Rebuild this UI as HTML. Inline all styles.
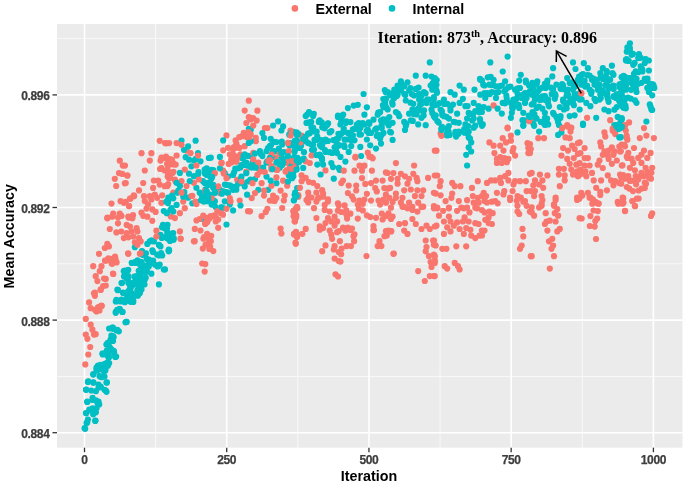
<!DOCTYPE html>
<html><head><meta charset="utf-8">
<style>
html,body{margin:0;padding:0;background:#fff;}
body{width:685px;height:484px;overflow:hidden;}
svg{display:block;filter:blur(0.3px);}
.gmin{stroke:#fafafa;stroke-width:0.9;}
.gmaj{stroke:#fff;stroke-width:1.6;}
.tk{stroke:#333;stroke-width:1.3;}
.yl{font:bold 12px "Liberation Sans",sans-serif;letter-spacing:-0.35px;fill:#3d3d3d;stroke:#3d3d3d;stroke-width:0.25px;text-anchor:end;}
.xl{font:bold 12px "Liberation Sans",sans-serif;letter-spacing:-0.35px;fill:#3d3d3d;stroke:#3d3d3d;stroke-width:0.25px;text-anchor:middle;}
.ttl{font:bold 14.3px "Liberation Sans",sans-serif;fill:#000;}
.r{fill:#F8766D;}
.t{fill:#00BFC4;}
.ann{font:bold 15.95px "Liberation Serif",serif;fill:#000;}
</style></head>
<body>
<svg width="685" height="484" viewBox="0 0 685 484">
<rect x="0" y="0" width="685" height="484" fill="#fff"/>
<rect x="57.0" y="24.0" width="625.5" height="423.7" fill="#EBEBEB"/>
<line x1="57.0" x2="682.5" y1="376.40" y2="376.40" class="gmin"/>
<line x1="57.0" x2="682.5" y1="263.80" y2="263.80" class="gmin"/>
<line x1="57.0" x2="682.5" y1="151.20" y2="151.20" class="gmin"/>
<line x1="57.0" x2="682.5" y1="38.60" y2="38.60" class="gmin"/>
<line y1="24.0" y2="447.7" x1="155.61" x2="155.61" class="gmin"/>
<line y1="24.0" y2="447.7" x1="297.84" x2="297.84" class="gmin"/>
<line y1="24.0" y2="447.7" x1="440.06" x2="440.06" class="gmin"/>
<line y1="24.0" y2="447.7" x1="582.29" x2="582.29" class="gmin"/>
<line x1="57.0" x2="682.5" y1="432.70" y2="432.70" class="gmaj"/>
<line x1="57.0" x2="682.5" y1="320.10" y2="320.10" class="gmaj"/>
<line x1="57.0" x2="682.5" y1="207.50" y2="207.50" class="gmaj"/>
<line x1="57.0" x2="682.5" y1="94.90" y2="94.90" class="gmaj"/>
<line y1="24.0" y2="447.7" x1="84.50" x2="84.50" class="gmaj"/>
<line y1="24.0" y2="447.7" x1="226.72" x2="226.72" class="gmaj"/>
<line y1="24.0" y2="447.7" x1="368.95" x2="368.95" class="gmaj"/>
<line y1="24.0" y2="447.7" x1="511.17" x2="511.17" class="gmaj"/>
<line y1="24.0" y2="447.7" x1="653.40" x2="653.40" class="gmaj"/>
<circle class="t" cx="137.4" cy="290.2" r="3.1"/>
<circle class="r" cx="238.2" cy="156.9" r="3.1"/>
<circle class="r" cx="105.8" cy="278.9" r="3.1"/>
<circle class="t" cx="556.4" cy="116.9" r="3.1"/>
<circle class="r" cx="133.0" cy="215.2" r="3.1"/>
<circle class="t" cx="122.4" cy="312.0" r="3.1"/>
<circle class="r" cx="275.6" cy="157.8" r="3.1"/>
<circle class="t" cx="338.0" cy="138.7" r="3.1"/>
<circle class="t" cx="488.6" cy="108.7" r="3.1"/>
<circle class="t" cx="622.0" cy="96.2" r="3.1"/>
<circle class="r" cx="128.3" cy="216.7" r="3.1"/>
<circle class="t" cx="553.1" cy="68.2" r="3.1"/>
<circle class="t" cx="531.7" cy="104.5" r="3.1"/>
<circle class="r" cx="205.3" cy="264.1" r="3.1"/>
<circle class="t" cx="391.7" cy="93.6" r="3.1"/>
<circle class="t" cx="606.7" cy="71.1" r="3.1"/>
<circle class="t" cx="418.2" cy="108.7" r="3.1"/>
<circle class="r" cx="113.0" cy="273.7" r="3.1"/>
<circle class="r" cx="183.2" cy="201.6" r="3.1"/>
<circle class="r" cx="274.6" cy="200.9" r="3.1"/>
<circle class="t" cx="274.2" cy="141.8" r="3.1"/>
<circle class="t" cx="226.7" cy="192.2" r="3.1"/>
<circle class="r" cx="554.0" cy="256.2" r="3.1"/>
<circle class="t" cx="314.0" cy="149.7" r="3.1"/>
<circle class="t" cx="303.8" cy="158.6" r="3.1"/>
<circle class="t" cx="104.5" cy="389.8" r="3.1"/>
<circle class="t" cx="551.7" cy="94.2" r="3.1"/>
<circle class="t" cx="336.5" cy="147.4" r="3.1"/>
<circle class="t" cx="467.5" cy="133.4" r="3.1"/>
<circle class="t" cx="203.0" cy="197.7" r="3.1"/>
<circle class="t" cx="102.4" cy="353.6" r="3.1"/>
<circle class="t" cx="116.4" cy="299.9" r="3.1"/>
<circle class="t" cx="114.1" cy="352.4" r="3.1"/>
<circle class="r" cx="108.9" cy="246.4" r="3.1"/>
<circle class="r" cx="94.0" cy="334.6" r="3.1"/>
<circle class="r" cx="136.6" cy="228.2" r="3.1"/>
<circle class="t" cx="568.0" cy="94.6" r="3.1"/>
<circle class="r" cx="652.2" cy="167.8" r="3.1"/>
<circle class="t" cx="354.5" cy="128.8" r="3.1"/>
<circle class="r" cx="346.7" cy="246.1" r="3.1"/>
<circle class="r" cx="169.5" cy="163.5" r="3.1"/>
<circle class="t" cx="133.3" cy="302.0" r="3.1"/>
<circle class="r" cx="629.1" cy="122.4" r="3.1"/>
<circle class="t" cx="453.8" cy="121.9" r="3.1"/>
<circle class="t" cx="142.2" cy="254.1" r="3.1"/>
<circle class="r" cx="415.8" cy="224.0" r="3.1"/>
<circle class="t" cx="167.0" cy="228.1" r="3.1"/>
<circle class="r" cx="402.5" cy="206.7" r="3.1"/>
<circle class="t" cx="213.3" cy="184.8" r="3.1"/>
<circle class="r" cx="387.7" cy="188.7" r="3.1"/>
<circle class="t" cx="558.1" cy="134.9" r="3.1"/>
<circle class="t" cx="163.0" cy="224.9" r="3.1"/>
<circle class="r" cx="250.8" cy="118.1" r="3.1"/>
<circle class="t" cx="415.8" cy="88.9" r="3.1"/>
<circle class="t" cx="626.8" cy="51.7" r="3.1"/>
<circle class="t" cx="164.7" cy="228.2" r="3.1"/>
<circle class="t" cx="327.0" cy="125.1" r="3.1"/>
<circle class="t" cx="535.0" cy="99.6" r="3.1"/>
<circle class="r" cx="108.3" cy="258.3" r="3.1"/>
<circle class="r" cx="325.5" cy="170.4" r="3.1"/>
<circle class="t" cx="546.7" cy="122.4" r="3.1"/>
<circle class="r" cx="433.9" cy="276.1" r="3.1"/>
<circle class="t" cx="250.0" cy="156.1" r="3.1"/>
<circle class="t" cx="140.5" cy="264.9" r="3.1"/>
<circle class="t" cx="491.9" cy="92.1" r="3.1"/>
<circle class="t" cx="334.6" cy="147.3" r="3.1"/>
<circle class="t" cx="471.2" cy="151.5" r="3.1"/>
<circle class="t" cx="535.8" cy="97.6" r="3.1"/>
<circle class="t" cx="435.7" cy="115.3" r="3.1"/>
<circle class="r" cx="543.2" cy="187.8" r="3.1"/>
<circle class="t" cx="207.1" cy="199.1" r="3.1"/>
<circle class="t" cx="523.3" cy="125.2" r="3.1"/>
<circle class="r" cx="428.1" cy="177.9" r="3.1"/>
<circle class="r" cx="305.7" cy="177.9" r="3.1"/>
<circle class="r" cx="103.1" cy="286.1" r="3.1"/>
<circle class="r" cx="280.6" cy="228.6" r="3.1"/>
<circle class="r" cx="595.3" cy="201.8" r="3.1"/>
<circle class="r" cx="337.1" cy="221.4" r="3.1"/>
<circle class="r" cx="628.3" cy="152.9" r="3.1"/>
<circle class="r" cx="271.5" cy="166.7" r="3.1"/>
<circle class="t" cx="621.9" cy="83.4" r="3.1"/>
<circle class="t" cx="532.5" cy="112.0" r="3.1"/>
<circle class="t" cx="645.6" cy="59.7" r="3.1"/>
<circle class="t" cx="128.2" cy="269.9" r="3.1"/>
<circle class="t" cx="361.1" cy="156.0" r="3.1"/>
<circle class="r" cx="325.5" cy="245.4" r="3.1"/>
<circle class="r" cx="347.1" cy="218.6" r="3.1"/>
<circle class="r" cx="364.4" cy="199.6" r="3.1"/>
<circle class="t" cx="117.4" cy="301.2" r="3.1"/>
<circle class="t" cx="388.8" cy="125.4" r="3.1"/>
<circle class="r" cx="623.1" cy="197.9" r="3.1"/>
<circle class="t" cx="161.8" cy="238.0" r="3.1"/>
<circle class="t" cx="380.1" cy="112.2" r="3.1"/>
<circle class="t" cx="405.0" cy="130.0" r="3.1"/>
<circle class="r" cx="166.0" cy="156.5" r="3.1"/>
<circle class="t" cx="432.3" cy="89.7" r="3.1"/>
<circle class="t" cx="283.0" cy="158.5" r="3.1"/>
<circle class="t" cx="381.8" cy="127.9" r="3.1"/>
<circle class="t" cx="394.3" cy="89.7" r="3.1"/>
<circle class="t" cx="583.0" cy="74.0" r="3.1"/>
<circle class="r" cx="159.7" cy="184.6" r="3.1"/>
<circle class="t" cx="153.1" cy="260.5" r="3.1"/>
<circle class="r" cx="355.4" cy="157.5" r="3.1"/>
<circle class="t" cx="109.1" cy="363.2" r="3.1"/>
<circle class="r" cx="301.6" cy="135.7" r="3.1"/>
<circle class="t" cx="170.9" cy="237.7" r="3.1"/>
<circle class="t" cx="306.5" cy="122.9" r="3.1"/>
<circle class="r" cx="528.3" cy="148.1" r="3.1"/>
<circle class="t" cx="141.9" cy="251.6" r="3.1"/>
<circle class="r" cx="362.0" cy="170.7" r="3.1"/>
<circle class="r" cx="235.6" cy="140.4" r="3.1"/>
<circle class="t" cx="129.8" cy="284.7" r="3.1"/>
<circle class="t" cx="141.5" cy="289.4" r="3.1"/>
<circle class="t" cx="115.8" cy="301.5" r="3.1"/>
<circle class="r" cx="607.8" cy="155.6" r="3.1"/>
<circle class="t" cx="119.6" cy="308.9" r="3.1"/>
<circle class="t" cx="223.2" cy="208.0" r="3.1"/>
<circle class="t" cx="394.3" cy="98.0" r="3.1"/>
<circle class="r" cx="231.4" cy="162.5" r="3.1"/>
<circle class="r" cx="107.4" cy="217.7" r="3.1"/>
<circle class="r" cx="194.8" cy="228.9" r="3.1"/>
<circle class="t" cx="597.1" cy="85.3" r="3.1"/>
<circle class="r" cx="267.4" cy="208.8" r="3.1"/>
<circle class="r" cx="405.0" cy="223.2" r="3.1"/>
<circle class="t" cx="130.0" cy="282.8" r="3.1"/>
<circle class="t" cx="90.3" cy="410.2" r="3.1"/>
<circle class="r" cx="295.7" cy="208.9" r="3.1"/>
<circle class="r" cx="599.5" cy="160.5" r="3.1"/>
<circle class="r" cx="341.1" cy="254.2" r="3.1"/>
<circle class="t" cx="224.8" cy="173.2" r="3.1"/>
<circle class="r" cx="371.9" cy="170.7" r="3.1"/>
<circle class="r" cx="223.0" cy="214.7" r="3.1"/>
<circle class="r" cx="489.4" cy="211.6" r="3.1"/>
<circle class="t" cx="387.7" cy="109.5" r="3.1"/>
<circle class="t" cx="86.0" cy="389.8" r="3.1"/>
<circle class="r" cx="153.1" cy="187.9" r="3.1"/>
<circle class="r" cx="385.9" cy="172.4" r="3.1"/>
<circle class="r" cx="584.6" cy="148.1" r="3.1"/>
<circle class="t" cx="548.2" cy="99.6" r="3.1"/>
<circle class="r" cx="592.3" cy="203.7" r="3.1"/>
<circle class="t" cx="536.6" cy="95.5" r="3.1"/>
<circle class="t" cx="587.5" cy="75.2" r="3.1"/>
<circle class="t" cx="559.8" cy="107.0" r="3.1"/>
<circle class="t" cx="131.6" cy="293.5" r="3.1"/>
<circle class="t" cx="649.4" cy="89.5" r="3.1"/>
<circle class="r" cx="379.5" cy="241.2" r="3.1"/>
<circle class="r" cx="400.9" cy="173.8" r="3.1"/>
<circle class="r" cx="641.5" cy="154.6" r="3.1"/>
<circle class="t" cx="383.6" cy="120.5" r="3.1"/>
<circle class="t" cx="594.5" cy="98.8" r="3.1"/>
<circle class="t" cx="421.1" cy="96.3" r="3.1"/>
<circle class="t" cx="325.7" cy="151.9" r="3.1"/>
<circle class="t" cx="617.7" cy="116.9" r="3.1"/>
<circle class="t" cx="328.0" cy="123.3" r="3.1"/>
<circle class="t" cx="98.0" cy="365.5" r="3.1"/>
<circle class="t" cx="386.0" cy="98.8" r="3.1"/>
<circle class="t" cx="519.8" cy="95.5" r="3.1"/>
<circle class="t" cx="387.7" cy="92.2" r="3.1"/>
<circle class="r" cx="309.0" cy="182.0" r="3.1"/>
<circle class="t" cx="348.7" cy="151.9" r="3.1"/>
<circle class="r" cx="581.3" cy="192.8" r="3.1"/>
<circle class="t" cx="129.8" cy="284.7" r="3.1"/>
<circle class="t" cx="191.4" cy="166.3" r="3.1"/>
<circle class="r" cx="585.4" cy="171.3" r="3.1"/>
<circle class="t" cx="236.4" cy="186.4" r="3.1"/>
<circle class="t" cx="591.6" cy="91.6" r="3.1"/>
<circle class="t" cx="618.4" cy="94.1" r="3.1"/>
<circle class="t" cx="560.6" cy="116.1" r="3.1"/>
<circle class="t" cx="449.7" cy="135.0" r="3.1"/>
<circle class="t" cx="297.1" cy="188.1" r="3.1"/>
<circle class="t" cx="383.5" cy="107.3" r="3.1"/>
<circle class="t" cx="542.4" cy="96.3" r="3.1"/>
<circle class="r" cx="385.9" cy="231.0" r="3.1"/>
<circle class="t" cx="316.7" cy="139.4" r="3.1"/>
<circle class="r" cx="457.1" cy="222.4" r="3.1"/>
<circle class="r" cx="523.3" cy="201.7" r="3.1"/>
<circle class="t" cx="93.4" cy="374.1" r="3.1"/>
<circle class="t" cx="654.3" cy="87.9" r="3.1"/>
<circle class="r" cx="590.4" cy="216.1" r="3.1"/>
<circle class="t" cx="450.5" cy="92.2" r="3.1"/>
<circle class="t" cx="313.1" cy="144.8" r="3.1"/>
<circle class="t" cx="283.9" cy="152.0" r="3.1"/>
<circle class="t" cx="195.8" cy="158.9" r="3.1"/>
<circle class="r" cx="424.8" cy="281.0" r="3.1"/>
<circle class="t" cx="208.8" cy="158.0" r="3.1"/>
<circle class="t" cx="322.8" cy="127.3" r="3.1"/>
<circle class="t" cx="332.2" cy="152.9" r="3.1"/>
<circle class="t" cx="213.2" cy="170.0" r="3.1"/>
<circle class="t" cx="109.9" cy="347.6" r="3.1"/>
<circle class="r" cx="579.6" cy="218.2" r="3.1"/>
<circle class="t" cx="487.6" cy="93.2" r="3.1"/>
<circle class="t" cx="117.2" cy="309.8" r="3.1"/>
<circle class="t" cx="510.9" cy="102.9" r="3.1"/>
<circle class="t" cx="101.7" cy="377.2" r="3.1"/>
<circle class="t" cx="364.4" cy="124.6" r="3.1"/>
<circle class="r" cx="166.7" cy="158.0" r="3.1"/>
<circle class="r" cx="388.5" cy="213.3" r="3.1"/>
<circle class="t" cx="620.4" cy="122.4" r="3.1"/>
<circle class="r" cx="461.3" cy="207.7" r="3.1"/>
<circle class="r" cx="125.8" cy="201.9" r="3.1"/>
<circle class="r" cx="244.7" cy="146.2" r="3.1"/>
<circle class="r" cx="297.1" cy="236.9" r="3.1"/>
<circle class="t" cx="276.4" cy="183.2" r="3.1"/>
<circle class="t" cx="547.1" cy="118.5" r="3.1"/>
<circle class="t" cx="208.3" cy="183.1" r="3.1"/>
<circle class="t" cx="544.9" cy="83.9" r="3.1"/>
<circle class="r" cx="451.4" cy="197.8" r="3.1"/>
<circle class="r" cx="647.3" cy="157.9" r="3.1"/>
<circle class="r" cx="471.2" cy="235.6" r="3.1"/>
<circle class="r" cx="621.7" cy="144.7" r="3.1"/>
<circle class="r" cx="484.5" cy="230.6" r="3.1"/>
<circle class="r" cx="412.4" cy="210.0" r="3.1"/>
<circle class="r" cx="576.3" cy="164.7" r="3.1"/>
<circle class="t" cx="105.1" cy="370.7" r="3.1"/>
<circle class="t" cx="648.9" cy="92.0" r="3.1"/>
<circle class="t" cx="397.9" cy="113.5" r="3.1"/>
<circle class="r" cx="352.0" cy="228.6" r="3.1"/>
<circle class="r" cx="293.0" cy="168.3" r="3.1"/>
<circle class="t" cx="210.8" cy="157.7" r="3.1"/>
<circle class="r" cx="124.8" cy="183.3" r="3.1"/>
<circle class="t" cx="238.0" cy="182.1" r="3.1"/>
<circle class="t" cx="520.8" cy="74.8" r="3.1"/>
<circle class="t" cx="447.3" cy="135.4" r="3.1"/>
<circle class="r" cx="592.0" cy="172.9" r="3.1"/>
<circle class="r" cx="295.0" cy="221.4" r="3.1"/>
<circle class="r" cx="453.8" cy="225.7" r="3.1"/>
<circle class="t" cx="480.1" cy="107.5" r="3.1"/>
<circle class="t" cx="496.2" cy="92.9" r="3.1"/>
<circle class="t" cx="571.1" cy="82.3" r="3.1"/>
<circle class="t" cx="88.3" cy="381.3" r="3.1"/>
<circle class="t" cx="625.9" cy="89.7" r="3.1"/>
<circle class="r" cx="423.2" cy="206.7" r="3.1"/>
<circle class="r" cx="331.3" cy="234.7" r="3.1"/>
<circle class="r" cx="305.7" cy="228.9" r="3.1"/>
<circle class="t" cx="506.8" cy="98.8" r="3.1"/>
<circle class="r" cx="271.4" cy="169.2" r="3.1"/>
<circle class="r" cx="151.4" cy="199.5" r="3.1"/>
<circle class="t" cx="320.0" cy="145.0" r="3.1"/>
<circle class="t" cx="292.8" cy="168.0" r="3.1"/>
<circle class="t" cx="653.1" cy="84.6" r="3.1"/>
<circle class="r" cx="493.6" cy="105.4" r="3.1"/>
<circle class="t" cx="297.5" cy="157.9" r="3.1"/>
<circle class="r" cx="456.3" cy="246.3" r="3.1"/>
<circle class="t" cx="250.7" cy="167.3" r="3.1"/>
<circle class="t" cx="537.8" cy="97.6" r="3.1"/>
<circle class="t" cx="433.9" cy="81.4" r="3.1"/>
<circle class="t" cx="128.1" cy="278.1" r="3.1"/>
<circle class="t" cx="446.4" cy="135.0" r="3.1"/>
<circle class="r" cx="457.1" cy="210.8" r="3.1"/>
<circle class="t" cx="112.9" cy="327.5" r="3.1"/>
<circle class="r" cx="627.4" cy="139.7" r="3.1"/>
<circle class="r" cx="370.2" cy="217.0" r="3.1"/>
<circle class="r" cx="167.1" cy="163.9" r="3.1"/>
<circle class="r" cx="170.8" cy="216.5" r="3.1"/>
<circle class="t" cx="312.7" cy="130.6" r="3.1"/>
<circle class="r" cx="484.5" cy="201.0" r="3.1"/>
<circle class="t" cx="206.4" cy="198.8" r="3.1"/>
<circle class="t" cx="244.7" cy="163.3" r="3.1"/>
<circle class="r" cx="166.3" cy="143.3" r="3.1"/>
<circle class="t" cx="317.3" cy="164.6" r="3.1"/>
<circle class="t" cx="115.1" cy="356.5" r="3.1"/>
<circle class="t" cx="376.8" cy="136.0" r="3.1"/>
<circle class="t" cx="224.8" cy="201.3" r="3.1"/>
<circle class="r" cx="531.7" cy="256.2" r="3.1"/>
<circle class="r" cx="647.3" cy="171.9" r="3.1"/>
<circle class="t" cx="599.9" cy="89.7" r="3.1"/>
<circle class="t" cx="620.8" cy="128.1" r="3.1"/>
<circle class="r" cx="629.9" cy="181.0" r="3.1"/>
<circle class="r" cx="501.8" cy="163.0" r="3.1"/>
<circle class="t" cx="423.6" cy="115.4" r="3.1"/>
<circle class="t" cx="393.3" cy="96.4" r="3.1"/>
<circle class="t" cx="290.7" cy="143.0" r="3.1"/>
<circle class="r" cx="101.7" cy="306.0" r="3.1"/>
<circle class="r" cx="112.2" cy="263.8" r="3.1"/>
<circle class="r" cx="486.1" cy="196.1" r="3.1"/>
<circle class="t" cx="407.5" cy="82.3" r="3.1"/>
<circle class="t" cx="158.9" cy="284.4" r="3.1"/>
<circle class="t" cx="440.6" cy="109.5" r="3.1"/>
<circle class="t" cx="391.0" cy="132.5" r="3.1"/>
<circle class="r" cx="552.3" cy="238.8" r="3.1"/>
<circle class="r" cx="426.5" cy="225.7" r="3.1"/>
<circle class="t" cx="341.3" cy="133.7" r="3.1"/>
<circle class="t" cx="565.3" cy="104.1" r="3.1"/>
<circle class="t" cx="634.6" cy="62.9" r="3.1"/>
<circle class="t" cx="104.5" cy="376.6" r="3.1"/>
<circle class="t" cx="616.0" cy="97.9" r="3.1"/>
<circle class="t" cx="135.7" cy="262.9" r="3.1"/>
<circle class="t" cx="147.0" cy="271.8" r="3.1"/>
<circle class="t" cx="313.1" cy="127.7" r="3.1"/>
<circle class="t" cx="108.4" cy="357.3" r="3.1"/>
<circle class="t" cx="93.4" cy="382.4" r="3.1"/>
<circle class="t" cx="131.6" cy="286.2" r="3.1"/>
<circle class="r" cx="223.2" cy="150.3" r="3.1"/>
<circle class="t" cx="329.7" cy="132.4" r="3.1"/>
<circle class="t" cx="246.3" cy="162.7" r="3.1"/>
<circle class="t" cx="625.4" cy="105.6" r="3.1"/>
<circle class="t" cx="316.7" cy="131.7" r="3.1"/>
<circle class="t" cx="188.1" cy="197.7" r="3.1"/>
<circle class="r" cx="530.8" cy="256.2" r="3.1"/>
<circle class="t" cx="84.6" cy="428.2" r="3.1"/>
<circle class="r" cx="440.6" cy="133.5" r="3.1"/>
<circle class="t" cx="361.0" cy="134.5" r="3.1"/>
<circle class="r" cx="338.8" cy="252.0" r="3.1"/>
<circle class="r" cx="448.9" cy="216.6" r="3.1"/>
<circle class="t" cx="614.3" cy="125.0" r="3.1"/>
<circle class="r" cx="94.9" cy="295.8" r="3.1"/>
<circle class="r" cx="92.4" cy="329.7" r="3.1"/>
<circle class="r" cx="517.5" cy="196.1" r="3.1"/>
<circle class="t" cx="553.1" cy="89.7" r="3.1"/>
<circle class="r" cx="593.5" cy="210.5" r="3.1"/>
<circle class="t" cx="458.5" cy="133.7" r="3.1"/>
<circle class="r" cx="205.8" cy="217.9" r="3.1"/>
<circle class="t" cx="248.0" cy="155.9" r="3.1"/>
<circle class="t" cx="339.7" cy="145.3" r="3.1"/>
<circle class="t" cx="141.5" cy="272.9" r="3.1"/>
<circle class="r" cx="466.2" cy="246.3" r="3.1"/>
<circle class="r" cx="229.8" cy="154.4" r="3.1"/>
<circle class="r" cx="223.2" cy="170.7" r="3.1"/>
<circle class="t" cx="505.8" cy="89.6" r="3.1"/>
<circle class="t" cx="141.5" cy="284.4" r="3.1"/>
<circle class="t" cx="131.7" cy="262.9" r="3.1"/>
<circle class="t" cx="215.7" cy="207.1" r="3.1"/>
<circle class="t" cx="203.1" cy="192.7" r="3.1"/>
<circle class="t" cx="579.5" cy="97.1" r="3.1"/>
<circle class="r" cx="589.6" cy="197.7" r="3.1"/>
<circle class="r" cx="322.2" cy="190.2" r="3.1"/>
<circle class="t" cx="517.5" cy="132.4" r="3.1"/>
<circle class="t" cx="479.3" cy="112.3" r="3.1"/>
<circle class="t" cx="99.2" cy="404.4" r="3.1"/>
<circle class="t" cx="480.0" cy="119.2" r="3.1"/>
<circle class="t" cx="636.5" cy="102.8" r="3.1"/>
<circle class="r" cx="433.9" cy="254.6" r="3.1"/>
<circle class="t" cx="396.8" cy="96.0" r="3.1"/>
<circle class="t" cx="292.1" cy="162.7" r="3.1"/>
<circle class="t" cx="262.4" cy="156.1" r="3.1"/>
<circle class="t" cx="531.7" cy="85.5" r="3.1"/>
<circle class="t" cx="181.5" cy="140.7" r="3.1"/>
<circle class="t" cx="108.9" cy="356.1" r="3.1"/>
<circle class="t" cx="606.9" cy="73.1" r="3.1"/>
<circle class="t" cx="339.7" cy="169.9" r="3.1"/>
<circle class="r" cx="298.3" cy="195.2" r="3.1"/>
<circle class="r" cx="209.7" cy="217.1" r="3.1"/>
<circle class="t" cx="124.0" cy="276.4" r="3.1"/>
<circle class="r" cx="544.9" cy="224.0" r="3.1"/>
<circle class="r" cx="633.0" cy="191.1" r="3.1"/>
<circle class="r" cx="128.3" cy="253.8" r="3.1"/>
<circle class="r" cx="634.0" cy="148.0" r="3.1"/>
<circle class="r" cx="529.9" cy="173.8" r="3.1"/>
<circle class="r" cx="516.7" cy="200.8" r="3.1"/>
<circle class="t" cx="583.0" cy="123.6" r="3.1"/>
<circle class="r" cx="639.8" cy="138.1" r="3.1"/>
<circle class="r" cx="445.6" cy="201.1" r="3.1"/>
<circle class="t" cx="142.0" cy="251.2" r="3.1"/>
<circle class="t" cx="233.1" cy="174.9" r="3.1"/>
<circle class="t" cx="554.8" cy="98.8" r="3.1"/>
<circle class="r" cx="164.7" cy="170.5" r="3.1"/>
<circle class="t" cx="314.8" cy="131.6" r="3.1"/>
<circle class="t" cx="338.0" cy="115.5" r="3.1"/>
<circle class="r" cx="334.6" cy="216.5" r="3.1"/>
<circle class="t" cx="628.4" cy="51.0" r="3.1"/>
<circle class="t" cx="533.3" cy="89.7" r="3.1"/>
<circle class="t" cx="412.4" cy="109.5" r="3.1"/>
<circle class="r" cx="237.2" cy="179.8" r="3.1"/>
<circle class="r" cx="613.5" cy="185.3" r="3.1"/>
<circle class="t" cx="425.6" cy="93.4" r="3.1"/>
<circle class="r" cx="648.5" cy="176.2" r="3.1"/>
<circle class="t" cx="573.0" cy="89.7" r="3.1"/>
<circle class="r" cx="372.7" cy="158.3" r="3.1"/>
<circle class="r" cx="348.7" cy="185.6" r="3.1"/>
<circle class="r" cx="651.0" cy="178.7" r="3.1"/>
<circle class="t" cx="489.8" cy="94.1" r="3.1"/>
<circle class="t" cx="501.8" cy="85.5" r="3.1"/>
<circle class="r" cx="236.4" cy="143.7" r="3.1"/>
<circle class="r" cx="526.6" cy="205.8" r="3.1"/>
<circle class="t" cx="117.3" cy="329.8" r="3.1"/>
<circle class="r" cx="600.3" cy="195.0" r="3.1"/>
<circle class="r" cx="311.5" cy="197.5" r="3.1"/>
<circle class="t" cx="381.6" cy="135.0" r="3.1"/>
<circle class="t" cx="496.0" cy="97.9" r="3.1"/>
<circle class="t" cx="574.6" cy="115.3" r="3.1"/>
<circle class="t" cx="427.2" cy="99.6" r="3.1"/>
<circle class="t" cx="229.8" cy="204.6" r="3.1"/>
<circle class="r" cx="88.3" cy="354.5" r="3.1"/>
<circle class="r" cx="273.1" cy="195.6" r="3.1"/>
<circle class="r" cx="385.9" cy="216.2" r="3.1"/>
<circle class="r" cx="107.3" cy="243.9" r="3.1"/>
<circle class="r" cx="530.0" cy="153.1" r="3.1"/>
<circle class="t" cx="309.0" cy="112.0" r="3.1"/>
<circle class="t" cx="219.9" cy="189.8" r="3.1"/>
<circle class="t" cx="439.5" cy="103.0" r="3.1"/>
<circle class="t" cx="420.2" cy="104.7" r="3.1"/>
<circle class="t" cx="383.5" cy="132.9" r="3.1"/>
<circle class="t" cx="234.1" cy="172.3" r="3.1"/>
<circle class="r" cx="125.8" cy="183.0" r="3.1"/>
<circle class="r" cx="426.5" cy="247.1" r="3.1"/>
<circle class="t" cx="360.3" cy="127.9" r="3.1"/>
<circle class="r" cx="487.0" cy="202.5" r="3.1"/>
<circle class="r" cx="123.8" cy="238.1" r="3.1"/>
<circle class="t" cx="356.8" cy="124.7" r="3.1"/>
<circle class="r" cx="283.1" cy="180.7" r="3.1"/>
<circle class="r" cx="380.1" cy="204.6" r="3.1"/>
<circle class="t" cx="228.1" cy="193.1" r="3.1"/>
<circle class="r" cx="574.6" cy="149.0" r="3.1"/>
<circle class="t" cx="124.8" cy="270.7" r="3.1"/>
<circle class="t" cx="203.0" cy="219.0" r="3.1"/>
<circle class="t" cx="455.5" cy="131.9" r="3.1"/>
<circle class="r" cx="381.4" cy="246.1" r="3.1"/>
<circle class="t" cx="87.9" cy="381.9" r="3.1"/>
<circle class="r" cx="407.5" cy="183.7" r="3.1"/>
<circle class="r" cx="366.9" cy="215.3" r="3.1"/>
<circle class="t" cx="336.0" cy="151.9" r="3.1"/>
<circle class="r" cx="282.2" cy="208.0" r="3.1"/>
<circle class="r" cx="204.1" cy="237.0" r="3.1"/>
<circle class="r" cx="173.3" cy="163.0" r="3.1"/>
<circle class="r" cx="128.1" cy="253.3" r="3.1"/>
<circle class="r" cx="161.4" cy="202.8" r="3.1"/>
<circle class="t" cx="123.2" cy="293.0" r="3.1"/>
<circle class="t" cx="255.0" cy="179.0" r="3.1"/>
<circle class="r" cx="152.3" cy="209.4" r="3.1"/>
<circle class="r" cx="436.5" cy="150.7" r="3.1"/>
<circle class="r" cx="625.0" cy="146.3" r="3.1"/>
<circle class="t" cx="98.5" cy="401.7" r="3.1"/>
<circle class="t" cx="433.5" cy="83.6" r="3.1"/>
<circle class="t" cx="169.5" cy="235.6" r="3.1"/>
<circle class="t" cx="420.6" cy="110.3" r="3.1"/>
<circle class="t" cx="139.7" cy="293.0" r="3.1"/>
<circle class="r" cx="119.8" cy="160.7" r="3.1"/>
<circle class="r" cx="251.7" cy="198.1" r="3.1"/>
<circle class="t" cx="347.9" cy="108.1" r="3.1"/>
<circle class="r" cx="425.7" cy="240.5" r="3.1"/>
<circle class="r" cx="153.9" cy="180.5" r="3.1"/>
<circle class="t" cx="480.3" cy="121.9" r="3.1"/>
<circle class="t" cx="537.3" cy="81.4" r="3.1"/>
<circle class="t" cx="432.3" cy="112.9" r="3.1"/>
<circle class="t" cx="648.9" cy="70.5" r="3.1"/>
<circle class="r" cx="539.9" cy="174.6" r="3.1"/>
<circle class="t" cx="409.1" cy="113.7" r="3.1"/>
<circle class="t" cx="539.9" cy="99.9" r="3.1"/>
<circle class="t" cx="619.3" cy="84.7" r="3.1"/>
<circle class="t" cx="432.3" cy="104.6" r="3.1"/>
<circle class="t" cx="616.8" cy="107.0" r="3.1"/>
<circle class="r" cx="99.8" cy="271.2" r="3.1"/>
<circle class="t" cx="205.5" cy="189.4" r="3.1"/>
<circle class="r" cx="577.1" cy="171.3" r="3.1"/>
<circle class="t" cx="86.0" cy="413.0" r="3.1"/>
<circle class="t" cx="426.5" cy="102.9" r="3.1"/>
<circle class="r" cx="334.6" cy="225.6" r="3.1"/>
<circle class="r" cx="564.7" cy="175.4" r="3.1"/>
<circle class="r" cx="328.0" cy="201.6" r="3.1"/>
<circle class="t" cx="325.5" cy="139.5" r="3.1"/>
<circle class="t" cx="103.8" cy="371.0" r="3.1"/>
<circle class="r" cx="257.4" cy="110.7" r="3.1"/>
<circle class="r" cx="341.7" cy="248.6" r="3.1"/>
<circle class="t" cx="184.3" cy="192.1" r="3.1"/>
<circle class="t" cx="142.8" cy="266.0" r="3.1"/>
<circle class="r" cx="450.5" cy="231.4" r="3.1"/>
<circle class="r" cx="101.5" cy="305.7" r="3.1"/>
<circle class="t" cx="126.5" cy="299.6" r="3.1"/>
<circle class="r" cx="632.5" cy="201.2" r="3.1"/>
<circle class="r" cx="261.6" cy="183.2" r="3.1"/>
<circle class="r" cx="412.4" cy="219.0" r="3.1"/>
<circle class="t" cx="465.4" cy="106.2" r="3.1"/>
<circle class="r" cx="616.8" cy="160.5" r="3.1"/>
<circle class="r" cx="626.8" cy="187.0" r="3.1"/>
<circle class="r" cx="582.3" cy="195.6" r="3.1"/>
<circle class="t" cx="121.0" cy="301.5" r="3.1"/>
<circle class="r" cx="612.7" cy="128.5" r="3.1"/>
<circle class="r" cx="376.0" cy="180.6" r="3.1"/>
<circle class="r" cx="434.8" cy="150.7" r="3.1"/>
<circle class="r" cx="100.7" cy="290.0" r="3.1"/>
<circle class="t" cx="525.0" cy="99.3" r="3.1"/>
<circle class="r" cx="171.9" cy="160.1" r="3.1"/>
<circle class="r" cx="586.3" cy="176.2" r="3.1"/>
<circle class="r" cx="295.8" cy="215.7" r="3.1"/>
<circle class="r" cx="269.8" cy="200.5" r="3.1"/>
<circle class="t" cx="489.4" cy="84.7" r="3.1"/>
<circle class="r" cx="629.9" cy="167.8" r="3.1"/>
<circle class="r" cx="587.1" cy="117.8" r="3.1"/>
<circle class="r" cx="207.5" cy="221.2" r="3.1"/>
<circle class="t" cx="646.4" cy="121.5" r="3.1"/>
<circle class="t" cx="471.2" cy="142.4" r="3.1"/>
<circle class="r" cx="496.9" cy="158.9" r="3.1"/>
<circle class="r" cx="332.1" cy="238.8" r="3.1"/>
<circle class="t" cx="243.6" cy="183.1" r="3.1"/>
<circle class="t" cx="250.8" cy="129.7" r="3.1"/>
<circle class="t" cx="311.2" cy="121.9" r="3.1"/>
<circle class="r" cx="335.5" cy="274.3" r="3.1"/>
<circle class="t" cx="168.3" cy="200.8" r="3.1"/>
<circle class="t" cx="594.7" cy="79.3" r="3.1"/>
<circle class="t" cx="95.2" cy="420.9" r="3.1"/>
<circle class="t" cx="516.4" cy="98.9" r="3.1"/>
<circle class="r" cx="491.9" cy="201.7" r="3.1"/>
<circle class="t" cx="623.3" cy="107.5" r="3.1"/>
<circle class="t" cx="512.7" cy="103.6" r="3.1"/>
<circle class="r" cx="558.9" cy="174.6" r="3.1"/>
<circle class="r" cx="558.9" cy="168.8" r="3.1"/>
<circle class="t" cx="498.5" cy="92.1" r="3.1"/>
<circle class="t" cx="523.3" cy="112.8" r="3.1"/>
<circle class="t" cx="113.9" cy="351.2" r="3.1"/>
<circle class="r" cx="554.0" cy="204.3" r="3.1"/>
<circle class="t" cx="276.4" cy="162.7" r="3.1"/>
<circle class="r" cx="542.4" cy="200.0" r="3.1"/>
<circle class="r" cx="554.8" cy="213.2" r="3.1"/>
<circle class="t" cx="144.8" cy="254.7" r="3.1"/>
<circle class="t" cx="288.8" cy="144.5" r="3.1"/>
<circle class="r" cx="130.0" cy="226.6" r="3.1"/>
<circle class="t" cx="293.4" cy="131.8" r="3.1"/>
<circle class="r" cx="337.1" cy="232.2" r="3.1"/>
<circle class="t" cx="141.4" cy="283.1" r="3.1"/>
<circle class="t" cx="128.1" cy="278.1" r="3.1"/>
<circle class="r" cx="567.2" cy="158.9" r="3.1"/>
<circle class="r" cx="393.4" cy="173.0" r="3.1"/>
<circle class="r" cx="231.4" cy="161.9" r="3.1"/>
<circle class="r" cx="459.6" cy="229.0" r="3.1"/>
<circle class="t" cx="527.5" cy="93.5" r="3.1"/>
<circle class="t" cx="466.2" cy="154.8" r="3.1"/>
<circle class="r" cx="344.6" cy="205.4" r="3.1"/>
<circle class="t" cx="108.1" cy="342.9" r="3.1"/>
<circle class="t" cx="343.8" cy="128.8" r="3.1"/>
<circle class="r" cx="626.8" cy="156.4" r="3.1"/>
<circle class="r" cx="295.5" cy="242.7" r="3.1"/>
<circle class="r" cx="168.0" cy="171.6" r="3.1"/>
<circle class="t" cx="226.5" cy="224.5" r="3.1"/>
<circle class="r" cx="413.3" cy="173.8" r="3.1"/>
<circle class="r" cx="434.8" cy="276.1" r="3.1"/>
<circle class="t" cx="100.7" cy="386.5" r="3.1"/>
<circle class="t" cx="209.8" cy="176.2" r="3.1"/>
<circle class="t" cx="206.4" cy="169.2" r="3.1"/>
<circle class="t" cx="454.7" cy="94.7" r="3.1"/>
<circle class="t" cx="295.5" cy="141.2" r="3.1"/>
<circle class="r" cx="128.3" cy="237.3" r="3.1"/>
<circle class="r" cx="121.3" cy="231.5" r="3.1"/>
<circle class="r" cx="589.8" cy="226.0" r="3.1"/>
<circle class="r" cx="510.9" cy="140.7" r="3.1"/>
<circle class="t" cx="121.5" cy="299.6" r="3.1"/>
<circle class="t" cx="522.5" cy="120.2" r="3.1"/>
<circle class="t" cx="641.6" cy="68.8" r="3.1"/>
<circle class="r" cx="290.5" cy="130.5" r="3.1"/>
<circle class="r" cx="391.0" cy="231.4" r="3.1"/>
<circle class="t" cx="168.1" cy="238.8" r="3.1"/>
<circle class="r" cx="577.9" cy="176.2" r="3.1"/>
<circle class="t" cx="289.2" cy="134.7" r="3.1"/>
<circle class="t" cx="608.6" cy="101.8" r="3.1"/>
<circle class="t" cx="587.1" cy="85.5" r="3.1"/>
<circle class="t" cx="233.1" cy="189.8" r="3.1"/>
<circle class="t" cx="638.2" cy="58.1" r="3.1"/>
<circle class="r" cx="236.6" cy="145.8" r="3.1"/>
<circle class="r" cx="508.4" cy="172.9" r="3.1"/>
<circle class="t" cx="634.0" cy="83.8" r="3.1"/>
<circle class="t" cx="248.0" cy="181.5" r="3.1"/>
<circle class="t" cx="98.6" cy="387.5" r="3.1"/>
<circle class="t" cx="441.9" cy="111.4" r="3.1"/>
<circle class="t" cx="395.9" cy="112.0" r="3.1"/>
<circle class="t" cx="639.0" cy="54.0" r="3.1"/>
<circle class="t" cx="542.4" cy="108.7" r="3.1"/>
<circle class="r" cx="111.5" cy="203.6" r="3.1"/>
<circle class="r" cx="513.4" cy="184.5" r="3.1"/>
<circle class="t" cx="139.7" cy="293.0" r="3.1"/>
<circle class="t" cx="281.4" cy="130.5" r="3.1"/>
<circle class="r" cx="239.7" cy="200.5" r="3.1"/>
<circle class="t" cx="322.0" cy="158.0" r="3.1"/>
<circle class="r" cx="343.0" cy="227.7" r="3.1"/>
<circle class="t" cx="134.8" cy="262.4" r="3.1"/>
<circle class="t" cx="128.3" cy="291.0" r="3.1"/>
<circle class="t" cx="241.4" cy="157.7" r="3.1"/>
<circle class="r" cx="116.6" cy="262.4" r="3.1"/>
<circle class="r" cx="492.7" cy="213.2" r="3.1"/>
<circle class="t" cx="518.7" cy="104.9" r="3.1"/>
<circle class="t" cx="482.8" cy="124.4" r="3.1"/>
<circle class="t" cx="210.0" cy="194.7" r="3.1"/>
<circle class="t" cx="528.3" cy="93.0" r="3.1"/>
<circle class="t" cx="295.0" cy="194.4" r="3.1"/>
<circle class="r" cx="180.5" cy="238.7" r="3.1"/>
<circle class="r" cx="587.9" cy="158.1" r="3.1"/>
<circle class="t" cx="313.1" cy="116.1" r="3.1"/>
<circle class="r" cx="502.7" cy="138.2" r="3.1"/>
<circle class="t" cx="642.4" cy="71.5" r="3.1"/>
<circle class="r" cx="169.7" cy="159.0" r="3.1"/>
<circle class="r" cx="305.7" cy="161.3" r="3.1"/>
<circle class="r" cx="596.2" cy="202.7" r="3.1"/>
<circle class="r" cx="542.4" cy="180.4" r="3.1"/>
<circle class="t" cx="621.7" cy="118.2" r="3.1"/>
<circle class="t" cx="528.7" cy="115.6" r="3.1"/>
<circle class="t" cx="134.9" cy="247.2" r="3.1"/>
<circle class="r" cx="470.4" cy="229.8" r="3.1"/>
<circle class="r" cx="144.8" cy="170.5" r="3.1"/>
<circle class="t" cx="143.0" cy="269.8" r="3.1"/>
<circle class="r" cx="338.8" cy="205.4" r="3.1"/>
<circle class="r" cx="521.7" cy="245.5" r="3.1"/>
<circle class="t" cx="312.0" cy="150.0" r="3.1"/>
<circle class="t" cx="142.4" cy="254.7" r="3.1"/>
<circle class="r" cx="90.2" cy="347.0" r="3.1"/>
<circle class="r" cx="385.9" cy="194.7" r="3.1"/>
<circle class="t" cx="92.6" cy="408.4" r="3.1"/>
<circle class="r" cx="397.6" cy="178.8" r="3.1"/>
<circle class="r" cx="162.2" cy="195.3" r="3.1"/>
<circle class="r" cx="452.2" cy="193.6" r="3.1"/>
<circle class="r" cx="357.8" cy="204.6" r="3.1"/>
<circle class="t" cx="196.4" cy="187.8" r="3.1"/>
<circle class="t" cx="141.4" cy="283.1" r="3.1"/>
<circle class="r" cx="318.1" cy="198.3" r="3.1"/>
<circle class="r" cx="443.9" cy="221.5" r="3.1"/>
<circle class="r" cx="481.9" cy="230.6" r="3.1"/>
<circle class="r" cx="194.7" cy="241.2" r="3.1"/>
<circle class="r" cx="143.2" cy="215.8" r="3.1"/>
<circle class="t" cx="392.2" cy="102.2" r="3.1"/>
<circle class="r" cx="159.7" cy="140.8" r="3.1"/>
<circle class="t" cx="628.3" cy="78.0" r="3.1"/>
<circle class="r" cx="506.0" cy="142.4" r="3.1"/>
<circle class="t" cx="517.5" cy="93.8" r="3.1"/>
<circle class="t" cx="620.8" cy="137.2" r="3.1"/>
<circle class="r" cx="614.4" cy="151.4" r="3.1"/>
<circle class="r" cx="215.8" cy="221.5" r="3.1"/>
<circle class="r" cx="400.9" cy="202.7" r="3.1"/>
<circle class="r" cx="114.8" cy="178.8" r="3.1"/>
<circle class="r" cx="294.6" cy="162.7" r="3.1"/>
<circle class="t" cx="648.8" cy="60.5" r="3.1"/>
<circle class="r" cx="193.9" cy="182.8" r="3.1"/>
<circle class="t" cx="429.0" cy="99.6" r="3.1"/>
<circle class="r" cx="625.8" cy="130.6" r="3.1"/>
<circle class="r" cx="202.8" cy="248.6" r="3.1"/>
<circle class="r" cx="503.5" cy="194.4" r="3.1"/>
<circle class="t" cx="561.4" cy="132.4" r="3.1"/>
<circle class="t" cx="126.5" cy="278.2" r="3.1"/>
<circle class="r" cx="563.9" cy="168.8" r="3.1"/>
<circle class="t" cx="211.6" cy="169.9" r="3.1"/>
<circle class="r" cx="634.9" cy="206.0" r="3.1"/>
<circle class="t" cx="525.0" cy="102.9" r="3.1"/>
<circle class="t" cx="100.7" cy="364.8" r="3.1"/>
<circle class="r" cx="337.9" cy="210.7" r="3.1"/>
<circle class="t" cx="491.6" cy="85.1" r="3.1"/>
<circle class="t" cx="248.8" cy="128.8" r="3.1"/>
<circle class="r" cx="316.4" cy="192.7" r="3.1"/>
<circle class="t" cx="455.4" cy="122.3" r="3.1"/>
<circle class="r" cx="347.9" cy="193.0" r="3.1"/>
<circle class="r" cx="632.4" cy="201.0" r="3.1"/>
<circle class="t" cx="160.5" cy="246.4" r="3.1"/>
<circle class="r" cx="526.6" cy="191.1" r="3.1"/>
<circle class="t" cx="301.1" cy="145.8" r="3.1"/>
<circle class="t" cx="351.2" cy="146.1" r="3.1"/>
<circle class="r" cx="143.2" cy="183.0" r="3.1"/>
<circle class="t" cx="473.7" cy="127.7" r="3.1"/>
<circle class="r" cx="186.5" cy="150.6" r="3.1"/>
<circle class="r" cx="593.7" cy="180.4" r="3.1"/>
<circle class="t" cx="493.1" cy="84.7" r="3.1"/>
<circle class="t" cx="133.5" cy="283.0" r="3.1"/>
<circle class="r" cx="625.0" cy="178.7" r="3.1"/>
<circle class="t" cx="429.8" cy="62.4" r="3.1"/>
<circle class="t" cx="131.4" cy="296.3" r="3.1"/>
<circle class="r" cx="323.1" cy="228.1" r="3.1"/>
<circle class="r" cx="211.2" cy="235.8" r="3.1"/>
<circle class="t" cx="168.7" cy="250.5" r="3.1"/>
<circle class="r" cx="250.5" cy="119.5" r="3.1"/>
<circle class="r" cx="181.5" cy="181.2" r="3.1"/>
<circle class="t" cx="203.0" cy="181.2" r="3.1"/>
<circle class="t" cx="308.2" cy="143.1" r="3.1"/>
<circle class="t" cx="313.2" cy="130.0" r="3.1"/>
<circle class="t" cx="304.0" cy="152.2" r="3.1"/>
<circle class="r" cx="434.8" cy="262.9" r="3.1"/>
<circle class="t" cx="404.2" cy="93.8" r="3.1"/>
<circle class="r" cx="176.6" cy="143.1" r="3.1"/>
<circle class="t" cx="214.9" cy="201.3" r="3.1"/>
<circle class="r" cx="99.0" cy="253.8" r="3.1"/>
<circle class="r" cx="167.7" cy="176.4" r="3.1"/>
<circle class="r" cx="294.0" cy="234.4" r="3.1"/>
<circle class="t" cx="600.3" cy="73.1" r="3.1"/>
<circle class="t" cx="338.8" cy="167.9" r="3.1"/>
<circle class="r" cx="205.4" cy="223.2" r="3.1"/>
<circle class="r" cx="512.6" cy="191.1" r="3.1"/>
<circle class="t" cx="169.1" cy="250.4" r="3.1"/>
<circle class="t" cx="100.5" cy="387.2" r="3.1"/>
<circle class="t" cx="467.6" cy="106.1" r="3.1"/>
<circle class="t" cx="579.7" cy="109.5" r="3.1"/>
<circle class="r" cx="233.2" cy="154.7" r="3.1"/>
<circle class="t" cx="102.7" cy="354.5" r="3.1"/>
<circle class="t" cx="525.0" cy="93.0" r="3.1"/>
<circle class="t" cx="645.8" cy="80.8" r="3.1"/>
<circle class="t" cx="625.6" cy="86.8" r="3.1"/>
<circle class="t" cx="424.0" cy="110.4" r="3.1"/>
<circle class="r" cx="228.1" cy="147.8" r="3.1"/>
<circle class="t" cx="271.6" cy="157.2" r="3.1"/>
<circle class="t" cx="622.6" cy="106.2" r="3.1"/>
<circle class="r" cx="579.7" cy="197.7" r="3.1"/>
<circle class="t" cx="157.6" cy="266.5" r="3.1"/>
<circle class="t" cx="381.5" cy="125.6" r="3.1"/>
<circle class="t" cx="512.6" cy="108.7" r="3.1"/>
<circle class="r" cx="294.6" cy="233.6" r="3.1"/>
<circle class="t" cx="344.0" cy="145.4" r="3.1"/>
<circle class="t" cx="309.0" cy="122.7" r="3.1"/>
<circle class="r" cx="636.9" cy="198.7" r="3.1"/>
<circle class="r" cx="615.2" cy="134.1" r="3.1"/>
<circle class="t" cx="183.2" cy="196.7" r="3.1"/>
<circle class="t" cx="240.4" cy="167.4" r="3.1"/>
<circle class="r" cx="208.7" cy="242.7" r="3.1"/>
<circle class="t" cx="473.7" cy="102.9" r="3.1"/>
<circle class="t" cx="343.3" cy="131.9" r="3.1"/>
<circle class="r" cx="255.8" cy="137.9" r="3.1"/>
<circle class="t" cx="173.6" cy="239.8" r="3.1"/>
<circle class="t" cx="146.0" cy="253.3" r="3.1"/>
<circle class="r" cx="313.1" cy="182.8" r="3.1"/>
<circle class="t" cx="103.1" cy="353.6" r="3.1"/>
<circle class="t" cx="136.6" cy="277.0" r="3.1"/>
<circle class="r" cx="115.0" cy="256.6" r="3.1"/>
<circle class="t" cx="597.2" cy="85.1" r="3.1"/>
<circle class="t" cx="624.5" cy="100.5" r="3.1"/>
<circle class="t" cx="635.9" cy="88.8" r="3.1"/>
<circle class="t" cx="189.0" cy="173.7" r="3.1"/>
<circle class="r" cx="242.2" cy="136.2" r="3.1"/>
<circle class="t" cx="146.5" cy="269.5" r="3.1"/>
<circle class="r" cx="253.3" cy="152.8" r="3.1"/>
<circle class="t" cx="112.4" cy="327.7" r="3.1"/>
<circle class="t" cx="206.7" cy="174.9" r="3.1"/>
<circle class="t" cx="368.6" cy="133.1" r="3.1"/>
<circle class="t" cx="640.7" cy="66.4" r="3.1"/>
<circle class="t" cx="101.0" cy="369.2" r="3.1"/>
<circle class="t" cx="450.4" cy="107.4" r="3.1"/>
<circle class="t" cx="290.8" cy="133.2" r="3.1"/>
<circle class="t" cx="623.3" cy="97.8" r="3.1"/>
<circle class="t" cx="600.8" cy="98.0" r="3.1"/>
<circle class="t" cx="465.4" cy="124.4" r="3.1"/>
<circle class="t" cx="126.5" cy="321.9" r="3.1"/>
<circle class="t" cx="435.0" cy="117.8" r="3.1"/>
<circle class="r" cx="597.8" cy="164.7" r="3.1"/>
<circle class="t" cx="299.9" cy="148.1" r="3.1"/>
<circle class="t" cx="583.0" cy="125.0" r="3.1"/>
<circle class="t" cx="275.0" cy="151.4" r="3.1"/>
<circle class="t" cx="404.2" cy="86.4" r="3.1"/>
<circle class="t" cx="390.0" cy="94.6" r="3.1"/>
<circle class="t" cx="543.2" cy="122.7" r="3.1"/>
<circle class="r" cx="390.1" cy="187.9" r="3.1"/>
<circle class="r" cx="283.9" cy="200.5" r="3.1"/>
<circle class="t" cx="144.5" cy="280.3" r="3.1"/>
<circle class="t" cx="570.5" cy="98.8" r="3.1"/>
<circle class="r" cx="418.2" cy="271.1" r="3.1"/>
<circle class="t" cx="624.0" cy="104.0" r="3.1"/>
<circle class="t" cx="142.4" cy="267.9" r="3.1"/>
<circle class="r" cx="139.9" cy="253.8" r="3.1"/>
<circle class="t" cx="185.7" cy="157.2" r="3.1"/>
<circle class="r" cx="529.9" cy="211.6" r="3.1"/>
<circle class="r" cx="533.3" cy="185.3" r="3.1"/>
<circle class="r" cx="353.5" cy="236.2" r="3.1"/>
<circle class="t" cx="459.6" cy="102.9" r="3.1"/>
<circle class="r" cx="293.6" cy="216.2" r="3.1"/>
<circle class="t" cx="577.9" cy="79.8" r="3.1"/>
<circle class="t" cx="137.5" cy="260.3" r="3.1"/>
<circle class="r" cx="547.4" cy="230.6" r="3.1"/>
<circle class="r" cx="119.0" cy="173.1" r="3.1"/>
<circle class="r" cx="520.0" cy="248.8" r="3.1"/>
<circle class="t" cx="126.7" cy="271.2" r="3.1"/>
<circle class="t" cx="502.7" cy="71.5" r="3.1"/>
<circle class="t" cx="208.0" cy="182.8" r="3.1"/>
<circle class="t" cx="111.4" cy="349.5" r="3.1"/>
<circle class="r" cx="622.6" cy="197.7" r="3.1"/>
<circle class="r" cx="205.2" cy="223.9" r="3.1"/>
<circle class="t" cx="602.8" cy="90.5" r="3.1"/>
<circle class="r" cx="624.3" cy="144.8" r="3.1"/>
<circle class="t" cx="446.5" cy="116.8" r="3.1"/>
<circle class="r" cx="204.7" cy="191.1" r="3.1"/>
<circle class="r" cx="119.8" cy="213.6" r="3.1"/>
<circle class="t" cx="413.6" cy="114.1" r="3.1"/>
<circle class="r" cx="373.9" cy="230.0" r="3.1"/>
<circle class="t" cx="433.9" cy="97.1" r="3.1"/>
<circle class="t" cx="652.2" cy="95.3" r="3.1"/>
<circle class="t" cx="138.9" cy="277.1" r="3.1"/>
<circle class="r" cx="239.3" cy="137.2" r="3.1"/>
<circle class="r" cx="482.0" cy="235.5" r="3.1"/>
<circle class="t" cx="636.5" cy="92.0" r="3.1"/>
<circle class="t" cx="159.7" cy="264.6" r="3.1"/>
<circle class="t" cx="241.2" cy="178.6" r="3.1"/>
<circle class="r" cx="341.3" cy="183.1" r="3.1"/>
<circle class="t" cx="607.8" cy="98.8" r="3.1"/>
<circle class="t" cx="333.0" cy="167.1" r="3.1"/>
<circle class="t" cx="95.9" cy="391.2" r="3.1"/>
<circle class="t" cx="137.4" cy="262.0" r="3.1"/>
<circle class="t" cx="443.9" cy="116.2" r="3.1"/>
<circle class="r" cx="334.6" cy="258.6" r="3.1"/>
<circle class="t" cx="301.6" cy="141.5" r="3.1"/>
<circle class="t" cx="425.7" cy="75.7" r="3.1"/>
<circle class="r" cx="409.1" cy="178.8" r="3.1"/>
<circle class="r" cx="296.0" cy="231.9" r="3.1"/>
<circle class="t" cx="574.6" cy="94.6" r="3.1"/>
<circle class="t" cx="204.8" cy="173.4" r="3.1"/>
<circle class="t" cx="635.7" cy="71.3" r="3.1"/>
<circle class="r" cx="250.0" cy="211.3" r="3.1"/>
<circle class="r" cx="215.7" cy="217.0" r="3.1"/>
<circle class="r" cx="129.1" cy="206.1" r="3.1"/>
<circle class="t" cx="504.3" cy="91.3" r="3.1"/>
<circle class="r" cx="311.5" cy="155.5" r="3.1"/>
<circle class="t" cx="166.7" cy="238.0" r="3.1"/>
<circle class="t" cx="316.0" cy="140.0" r="3.1"/>
<circle class="t" cx="305.7" cy="136.5" r="3.1"/>
<circle class="r" cx="506.8" cy="162.2" r="3.1"/>
<circle class="r" cx="296.3" cy="215.4" r="3.1"/>
<circle class="t" cx="97.6" cy="366.9" r="3.1"/>
<circle class="t" cx="123.8" cy="271.2" r="3.1"/>
<circle class="r" cx="280.6" cy="190.6" r="3.1"/>
<circle class="r" cx="629.3" cy="188.6" r="3.1"/>
<circle class="r" cx="378.5" cy="200.5" r="3.1"/>
<circle class="r" cx="217.4" cy="211.2" r="3.1"/>
<circle class="r" cx="557.3" cy="231.4" r="3.1"/>
<circle class="r" cx="487.0" cy="182.9" r="3.1"/>
<circle class="r" cx="314.0" cy="208.2" r="3.1"/>
<circle class="t" cx="308.2" cy="122.5" r="3.1"/>
<circle class="r" cx="297.9" cy="196.4" r="3.1"/>
<circle class="t" cx="219.9" cy="168.3" r="3.1"/>
<circle class="r" cx="489.4" cy="142.4" r="3.1"/>
<circle class="t" cx="418.2" cy="124.4" r="3.1"/>
<circle class="t" cx="337.9" cy="116.9" r="3.1"/>
<circle class="r" cx="267.4" cy="128.0" r="3.1"/>
<circle class="t" cx="345.4" cy="161.6" r="3.1"/>
<circle class="t" cx="507.6" cy="56.6" r="3.1"/>
<circle class="r" cx="527.5" cy="143.2" r="3.1"/>
<circle class="r" cx="328.0" cy="199.3" r="3.1"/>
<circle class="r" cx="210.0" cy="217.9" r="3.1"/>
<circle class="r" cx="444.7" cy="266.2" r="3.1"/>
<circle class="r" cx="297.7" cy="234.7" r="3.1"/>
<circle class="r" cx="597.8" cy="211.1" r="3.1"/>
<circle class="t" cx="258.3" cy="189.8" r="3.1"/>
<circle class="t" cx="273.1" cy="151.2" r="3.1"/>
<circle class="r" cx="572.1" cy="145.7" r="3.1"/>
<circle class="r" cx="523.3" cy="236.4" r="3.1"/>
<circle class="r" cx="386.8" cy="235.6" r="3.1"/>
<circle class="r" cx="417.4" cy="211.6" r="3.1"/>
<circle class="t" cx="487.8" cy="77.3" r="3.1"/>
<circle class="r" cx="134.1" cy="196.2" r="3.1"/>
<circle class="t" cx="166.3" cy="201.8" r="3.1"/>
<circle class="t" cx="281.4" cy="156.9" r="3.1"/>
<circle class="t" cx="433.8" cy="99.5" r="3.1"/>
<circle class="r" cx="433.1" cy="240.5" r="3.1"/>
<circle class="r" cx="421.5" cy="229.0" r="3.1"/>
<circle class="t" cx="91.2" cy="390.5" r="3.1"/>
<circle class="t" cx="311.4" cy="144.6" r="3.1"/>
<circle class="t" cx="435.5" cy="87.2" r="3.1"/>
<circle class="t" cx="170.8" cy="233.8" r="3.1"/>
<circle class="t" cx="309.8" cy="133.2" r="3.1"/>
<circle class="r" cx="464.6" cy="217.4" r="3.1"/>
<circle class="t" cx="483.7" cy="107.0" r="3.1"/>
<circle class="t" cx="368.8" cy="122.4" r="3.1"/>
<circle class="t" cx="649.1" cy="88.2" r="3.1"/>
<circle class="t" cx="161.1" cy="253.2" r="3.1"/>
<circle class="r" cx="235.4" cy="159.5" r="3.1"/>
<circle class="t" cx="410.8" cy="120.3" r="3.1"/>
<circle class="t" cx="534.4" cy="114.1" r="3.1"/>
<circle class="t" cx="250.5" cy="179.6" r="3.1"/>
<circle class="r" cx="402.5" cy="197.8" r="3.1"/>
<circle class="r" cx="308.2" cy="202.4" r="3.1"/>
<circle class="r" cx="286.9" cy="170.1" r="3.1"/>
<circle class="r" cx="253.3" cy="125.5" r="3.1"/>
<circle class="t" cx="463.8" cy="131.7" r="3.1"/>
<circle class="r" cx="179.9" cy="231.4" r="3.1"/>
<circle class="r" cx="580.5" cy="153.1" r="3.1"/>
<circle class="r" cx="174.9" cy="179.5" r="3.1"/>
<circle class="r" cx="386.0" cy="202.7" r="3.1"/>
<circle class="t" cx="241.4" cy="176.5" r="3.1"/>
<circle class="r" cx="196.5" cy="220.4" r="3.1"/>
<circle class="r" cx="85.8" cy="334.6" r="3.1"/>
<circle class="t" cx="405.8" cy="100.5" r="3.1"/>
<circle class="r" cx="652.2" cy="213.4" r="3.1"/>
<circle class="t" cx="444.3" cy="104.0" r="3.1"/>
<circle class="t" cx="95.9" cy="412.3" r="3.1"/>
<circle class="t" cx="563.4" cy="89.1" r="3.1"/>
<circle class="r" cx="345.4" cy="230.6" r="3.1"/>
<circle class="t" cx="377.7" cy="114.7" r="3.1"/>
<circle class="r" cx="503.5" cy="150.6" r="3.1"/>
<circle class="t" cx="130.6" cy="301.8" r="3.1"/>
<circle class="r" cx="508.4" cy="158.9" r="3.1"/>
<circle class="t" cx="128.3" cy="282.7" r="3.1"/>
<circle class="t" cx="223.2" cy="191.4" r="3.1"/>
<circle class="t" cx="324.7" cy="128.3" r="3.1"/>
<circle class="r" cx="429.0" cy="256.2" r="3.1"/>
<circle class="t" cx="480.3" cy="94.7" r="3.1"/>
<circle class="r" cx="167.5" cy="186.1" r="3.1"/>
<circle class="r" cx="437.3" cy="175.5" r="3.1"/>
<circle class="r" cx="425.7" cy="251.3" r="3.1"/>
<circle class="t" cx="138.0" cy="295.6" r="3.1"/>
<circle class="r" cx="528.3" cy="153.1" r="3.1"/>
<circle class="t" cx="170.0" cy="241.0" r="3.1"/>
<circle class="t" cx="536.6" cy="84.7" r="3.1"/>
<circle class="r" cx="236.4" cy="161.7" r="3.1"/>
<circle class="r" cx="340.5" cy="261.6" r="3.1"/>
<circle class="t" cx="189.8" cy="181.2" r="3.1"/>
<circle class="r" cx="434.0" cy="240.5" r="3.1"/>
<circle class="r" cx="504.3" cy="191.1" r="3.1"/>
<circle class="r" cx="207.8" cy="236.9" r="3.1"/>
<circle class="t" cx="611.9" cy="65.7" r="3.1"/>
<circle class="t" cx="176.6" cy="204.9" r="3.1"/>
<circle class="t" cx="252.5" cy="162.7" r="3.1"/>
<circle class="t" cx="613.5" cy="74.8" r="3.1"/>
<circle class="r" cx="562.2" cy="127.7" r="3.1"/>
<circle class="t" cx="621.8" cy="119.4" r="3.1"/>
<circle class="t" cx="286.9" cy="158.2" r="3.1"/>
<circle class="t" cx="624.1" cy="107.7" r="3.1"/>
<circle class="t" cx="192.3" cy="203.3" r="3.1"/>
<circle class="r" cx="115.5" cy="258.8" r="3.1"/>
<circle class="t" cx="89.3" cy="409.7" r="3.1"/>
<circle class="t" cx="366.9" cy="139.5" r="3.1"/>
<circle class="r" cx="218.2" cy="219.5" r="3.1"/>
<circle class="r" cx="644.8" cy="188.0" r="3.1"/>
<circle class="t" cx="163.8" cy="269.5" r="3.1"/>
<circle class="t" cx="457.1" cy="113.7" r="3.1"/>
<circle class="r" cx="237.5" cy="157.7" r="3.1"/>
<circle class="t" cx="383.2" cy="119.4" r="3.1"/>
<circle class="r" cx="510.1" cy="200.0" r="3.1"/>
<circle class="t" cx="536.6" cy="118.6" r="3.1"/>
<circle class="r" cx="248.8" cy="100.7" r="3.1"/>
<circle class="r" cx="443.9" cy="233.9" r="3.1"/>
<circle class="t" cx="596.2" cy="117.8" r="3.1"/>
<circle class="r" cx="271.5" cy="154.5" r="3.1"/>
<circle class="t" cx="553.8" cy="114.3" r="3.1"/>
<circle class="t" cx="382.9" cy="105.0" r="3.1"/>
<circle class="t" cx="567.2" cy="78.1" r="3.1"/>
<circle class="r" cx="620.1" cy="174.6" r="3.1"/>
<circle class="t" cx="581.6" cy="99.3" r="3.1"/>
<circle class="r" cx="296.2" cy="217.6" r="3.1"/>
<circle class="t" cx="517.6" cy="88.3" r="3.1"/>
<circle class="t" cx="279.8" cy="167.7" r="3.1"/>
<circle class="t" cx="524.7" cy="120.4" r="3.1"/>
<circle class="r" cx="295.0" cy="211.9" r="3.1"/>
<circle class="t" cx="268.2" cy="189.8" r="3.1"/>
<circle class="t" cx="608.5" cy="79.1" r="3.1"/>
<circle class="r" cx="636.1" cy="184.3" r="3.1"/>
<circle class="r" cx="596.2" cy="187.8" r="3.1"/>
<circle class="t" cx="346.3" cy="121.3" r="3.1"/>
<circle class="r" cx="435.7" cy="245.5" r="3.1"/>
<circle class="r" cx="258.5" cy="168.6" r="3.1"/>
<circle class="r" cx="541.6" cy="205.8" r="3.1"/>
<circle class="r" cx="520.0" cy="181.2" r="3.1"/>
<circle class="r" cx="568.0" cy="150.6" r="3.1"/>
<circle class="t" cx="627.9" cy="97.7" r="3.1"/>
<circle class="r" cx="638.2" cy="179.4" r="3.1"/>
<circle class="r" cx="116.4" cy="232.4" r="3.1"/>
<circle class="r" cx="483.7" cy="192.8" r="3.1"/>
<circle class="t" cx="620.3" cy="84.2" r="3.1"/>
<circle class="t" cx="541.6" cy="99.6" r="3.1"/>
<circle class="t" cx="318.0" cy="155.0" r="3.1"/>
<circle class="r" cx="264.0" cy="195.6" r="3.1"/>
<circle class="r" cx="564.7" cy="180.4" r="3.1"/>
<circle class="r" cx="248.5" cy="132.1" r="3.1"/>
<circle class="t" cx="447.9" cy="132.5" r="3.1"/>
<circle class="t" cx="324.7" cy="126.0" r="3.1"/>
<circle class="t" cx="547.0" cy="83.3" r="3.1"/>
<circle class="r" cx="85.8" cy="318.9" r="3.1"/>
<circle class="t" cx="140.0" cy="280.5" r="3.1"/>
<circle class="t" cx="542.6" cy="87.6" r="3.1"/>
<circle class="t" cx="432.5" cy="83.5" r="3.1"/>
<circle class="t" cx="644.8" cy="78.8" r="3.1"/>
<circle class="r" cx="359.5" cy="165.7" r="3.1"/>
<circle class="t" cx="600.6" cy="91.5" r="3.1"/>
<circle class="r" cx="538.3" cy="138.2" r="3.1"/>
<circle class="r" cx="296.9" cy="206.8" r="3.1"/>
<circle class="t" cx="436.5" cy="90.5" r="3.1"/>
<circle class="r" cx="168.8" cy="178.0" r="3.1"/>
<circle class="r" cx="606.9" cy="190.3" r="3.1"/>
<circle class="t" cx="319.6" cy="120.4" r="3.1"/>
<circle class="t" cx="228.1" cy="176.5" r="3.1"/>
<circle class="r" cx="417.4" cy="190.3" r="3.1"/>
<circle class="t" cx="331.4" cy="131.1" r="3.1"/>
<circle class="r" cx="343.0" cy="180.6" r="3.1"/>
<circle class="t" cx="115.5" cy="356.9" r="3.1"/>
<circle class="t" cx="515.1" cy="89.7" r="3.1"/>
<circle class="t" cx="614.5" cy="109.7" r="3.1"/>
<circle class="r" cx="573.0" cy="174.6" r="3.1"/>
<circle class="r" cx="437.3" cy="208.3" r="3.1"/>
<circle class="t" cx="523.3" cy="125.8" r="3.1"/>
<circle class="t" cx="404.2" cy="121.9" r="3.1"/>
<circle class="t" cx="106.9" cy="382.4" r="3.1"/>
<circle class="t" cx="478.6" cy="106.2" r="3.1"/>
<circle class="r" cx="199.7" cy="219.0" r="3.1"/>
<circle class="r" cx="173.3" cy="192.7" r="3.1"/>
<circle class="r" cx="435.7" cy="193.6" r="3.1"/>
<circle class="r" cx="644.0" cy="128.1" r="3.1"/>
<circle class="t" cx="279.6" cy="151.4" r="3.1"/>
<circle class="t" cx="295.0" cy="140.7" r="3.1"/>
<circle class="t" cx="149.8" cy="241.4" r="3.1"/>
<circle class="r" cx="381.8" cy="213.7" r="3.1"/>
<circle class="t" cx="589.6" cy="75.6" r="3.1"/>
<circle class="t" cx="566.4" cy="90.5" r="3.1"/>
<circle class="t" cx="113.0" cy="336.3" r="3.1"/>
<circle class="t" cx="95.9" cy="400.4" r="3.1"/>
<circle class="t" cx="239.7" cy="183.1" r="3.1"/>
<circle class="r" cx="209.3" cy="248.9" r="3.1"/>
<circle class="t" cx="613.5" cy="85.5" r="3.1"/>
<circle class="t" cx="466.1" cy="131.4" r="3.1"/>
<circle class="r" cx="204.7" cy="271.6" r="3.1"/>
<circle class="t" cx="329.7" cy="152.2" r="3.1"/>
<circle class="t" cx="538.2" cy="91.1" r="3.1"/>
<circle class="t" cx="142.2" cy="254.1" r="3.1"/>
<circle class="t" cx="224.9" cy="184.6" r="3.1"/>
<circle class="t" cx="366.7" cy="130.9" r="3.1"/>
<circle class="t" cx="290.0" cy="145.6" r="3.1"/>
<circle class="t" cx="158.5" cy="266.0" r="3.1"/>
<circle class="r" cx="460.4" cy="186.2" r="3.1"/>
<circle class="t" cx="358.7" cy="123.0" r="3.1"/>
<circle class="t" cx="151.6" cy="240.4" r="3.1"/>
<circle class="r" cx="168.2" cy="184.1" r="3.1"/>
<circle class="r" cx="288.8" cy="151.2" r="3.1"/>
<circle class="t" cx="143.9" cy="271.9" r="3.1"/>
<circle class="t" cx="442.0" cy="126.8" r="3.1"/>
<circle class="r" cx="429.8" cy="229.0" r="3.1"/>
<circle class="r" cx="191.4" cy="196.0" r="3.1"/>
<circle class="r" cx="579.7" cy="142.4" r="3.1"/>
<circle class="r" cx="246.3" cy="171.6" r="3.1"/>
<circle class="r" cx="510.1" cy="197.7" r="3.1"/>
<circle class="r" cx="243.8" cy="132.9" r="3.1"/>
<circle class="r" cx="392.6" cy="216.6" r="3.1"/>
<circle class="r" cx="522.5" cy="228.9" r="3.1"/>
<circle class="t" cx="267.2" cy="161.3" r="3.1"/>
<circle class="r" cx="559.8" cy="228.9" r="3.1"/>
<circle class="t" cx="421.5" cy="117.8" r="3.1"/>
<circle class="t" cx="213.7" cy="204.4" r="3.1"/>
<circle class="t" cx="592.0" cy="79.8" r="3.1"/>
<circle class="t" cx="316.4" cy="155.1" r="3.1"/>
<circle class="r" cx="546.5" cy="221.5" r="3.1"/>
<circle class="t" cx="366.9" cy="107.3" r="3.1"/>
<circle class="t" cx="115.8" cy="311.9" r="3.1"/>
<circle class="t" cx="582.6" cy="81.1" r="3.1"/>
<circle class="t" cx="536.6" cy="107.9" r="3.1"/>
<circle class="r" cx="255.8" cy="141.2" r="3.1"/>
<circle class="t" cx="458.8" cy="122.8" r="3.1"/>
<circle class="r" cx="635.0" cy="206.2" r="3.1"/>
<circle class="t" cx="525.8" cy="80.6" r="3.1"/>
<circle class="t" cx="106.5" cy="382.6" r="3.1"/>
<circle class="r" cx="620.8" cy="151.3" r="3.1"/>
<circle class="t" cx="545.7" cy="100.2" r="3.1"/>
<circle class="r" cx="350.4" cy="213.7" r="3.1"/>
<circle class="t" cx="259.9" cy="151.2" r="3.1"/>
<circle class="t" cx="533.6" cy="103.1" r="3.1"/>
<circle class="r" cx="298.3" cy="196.7" r="3.1"/>
<circle class="r" cx="484.5" cy="212.4" r="3.1"/>
<circle class="t" cx="616.2" cy="94.7" r="3.1"/>
<circle class="r" cx="626.8" cy="138.2" r="3.1"/>
<circle class="r" cx="263.2" cy="170.0" r="3.1"/>
<circle class="t" cx="405.8" cy="126.1" r="3.1"/>
<circle class="r" cx="174.9" cy="218.1" r="3.1"/>
<circle class="t" cx="148.8" cy="266.6" r="3.1"/>
<circle class="t" cx="193.9" cy="160.5" r="3.1"/>
<circle class="r" cx="549.8" cy="220.7" r="3.1"/>
<circle class="r" cx="259.9" cy="167.7" r="3.1"/>
<circle class="r" cx="160.5" cy="160.6" r="3.1"/>
<circle class="t" cx="584.6" cy="80.6" r="3.1"/>
<circle class="r" cx="553.1" cy="245.5" r="3.1"/>
<circle class="t" cx="136.4" cy="283.1" r="3.1"/>
<circle class="r" cx="391.0" cy="207.7" r="3.1"/>
<circle class="r" cx="646.4" cy="135.6" r="3.1"/>
<circle class="r" cx="382.6" cy="180.6" r="3.1"/>
<circle class="t" cx="359.5" cy="134.5" r="3.1"/>
<circle class="t" cx="167.5" cy="224.8" r="3.1"/>
<circle class="r" cx="388.5" cy="230.6" r="3.1"/>
<circle class="r" cx="554.0" cy="205.8" r="3.1"/>
<circle class="r" cx="123.9" cy="202.8" r="3.1"/>
<circle class="t" cx="353.7" cy="105.6" r="3.1"/>
<circle class="r" cx="248.0" cy="211.2" r="3.1"/>
<circle class="r" cx="306.5" cy="200.0" r="3.1"/>
<circle class="t" cx="576.3" cy="97.9" r="3.1"/>
<circle class="r" cx="391.0" cy="219.0" r="3.1"/>
<circle class="t" cx="423.4" cy="101.6" r="3.1"/>
<circle class="r" cx="299.9" cy="187.8" r="3.1"/>
<circle class="t" cx="122.1" cy="282.8" r="3.1"/>
<circle class="r" cx="387.7" cy="173.0" r="3.1"/>
<circle class="r" cx="578.8" cy="175.4" r="3.1"/>
<circle class="r" cx="535.0" cy="191.1" r="3.1"/>
<circle class="r" cx="391.0" cy="178.8" r="3.1"/>
<circle class="t" cx="375.2" cy="129.6" r="3.1"/>
<circle class="r" cx="290.0" cy="159.6" r="3.1"/>
<circle class="r" cx="393.8" cy="253.5" r="3.1"/>
<circle class="r" cx="316.4" cy="218.1" r="3.1"/>
<circle class="r" cx="508.4" cy="180.4" r="3.1"/>
<circle class="t" cx="468.7" cy="137.4" r="3.1"/>
<circle class="r" cx="359.5" cy="200.5" r="3.1"/>
<circle class="r" cx="573.8" cy="158.1" r="3.1"/>
<circle class="t" cx="295.6" cy="157.8" r="3.1"/>
<circle class="t" cx="621.7" cy="77.1" r="3.1"/>
<circle class="r" cx="634.9" cy="170.3" r="3.1"/>
<circle class="t" cx="200.5" cy="161.3" r="3.1"/>
<circle class="t" cx="99.6" cy="376.2" r="3.1"/>
<circle class="r" cx="367.8" cy="152.7" r="3.1"/>
<circle class="t" cx="105.4" cy="369.9" r="3.1"/>
<circle class="t" cx="247.1" cy="194.7" r="3.1"/>
<circle class="r" cx="301.6" cy="175.4" r="3.1"/>
<circle class="t" cx="298.3" cy="133.9" r="3.1"/>
<circle class="t" cx="133.1" cy="300.4" r="3.1"/>
<circle class="t" cx="608.6" cy="111.2" r="3.1"/>
<circle class="r" cx="329.7" cy="230.5" r="3.1"/>
<circle class="t" cx="154.8" cy="264.6" r="3.1"/>
<circle class="r" cx="300.7" cy="142.3" r="3.1"/>
<circle class="r" cx="172.4" cy="172.9" r="3.1"/>
<circle class="r" cx="149.8" cy="160.6" r="3.1"/>
<circle class="r" cx="494.4" cy="153.1" r="3.1"/>
<circle class="t" cx="628.0" cy="49.5" r="3.1"/>
<circle class="r" cx="176.6" cy="155.5" r="3.1"/>
<circle class="t" cx="574.9" cy="86.5" r="3.1"/>
<circle class="r" cx="139.0" cy="190.4" r="3.1"/>
<circle class="r" cx="354.1" cy="241.2" r="3.1"/>
<circle class="r" cx="404.2" cy="190.3" r="3.1"/>
<circle class="r" cx="604.4" cy="151.4" r="3.1"/>
<circle class="r" cx="237.7" cy="147.7" r="3.1"/>
<circle class="t" cx="409.1" cy="90.5" r="3.1"/>
<circle class="t" cx="597.8" cy="89.7" r="3.1"/>
<circle class="t" cx="560.3" cy="118.1" r="3.1"/>
<circle class="r" cx="531.7" cy="212.4" r="3.1"/>
<circle class="t" cx="250.8" cy="141.2" r="3.1"/>
<circle class="t" cx="92.4" cy="400.0" r="3.1"/>
<circle class="r" cx="440.6" cy="181.2" r="3.1"/>
<circle class="r" cx="500.2" cy="145.7" r="3.1"/>
<circle class="r" cx="472.8" cy="196.1" r="3.1"/>
<circle class="r" cx="167.5" cy="169.6" r="3.1"/>
<circle class="t" cx="625.7" cy="87.8" r="3.1"/>
<circle class="t" cx="294.6" cy="152.0" r="3.1"/>
<circle class="r" cx="323.1" cy="193.6" r="3.1"/>
<circle class="t" cx="619.3" cy="137.4" r="3.1"/>
<circle class="t" cx="582.8" cy="83.9" r="3.1"/>
<circle class="t" cx="389.3" cy="117.0" r="3.1"/>
<circle class="r" cx="243.0" cy="165.0" r="3.1"/>
<circle class="r" cx="641.5" cy="162.9" r="3.1"/>
<circle class="t" cx="95.5" cy="420.6" r="3.1"/>
<circle class="r" cx="625.1" cy="211.1" r="3.1"/>
<circle class="r" cx="294.1" cy="233.8" r="3.1"/>
<circle class="r" cx="525.8" cy="181.2" r="3.1"/>
<circle class="r" cx="625.1" cy="125.2" r="3.1"/>
<circle class="r" cx="594.7" cy="226.6" r="3.1"/>
<circle class="r" cx="615.2" cy="181.2" r="3.1"/>
<circle class="t" cx="484.5" cy="93.0" r="3.1"/>
<circle class="t" cx="467.1" cy="165.5" r="3.1"/>
<circle class="t" cx="547.4" cy="80.6" r="3.1"/>
<circle class="t" cx="392.6" cy="122.8" r="3.1"/>
<circle class="t" cx="605.2" cy="77.4" r="3.1"/>
<circle class="r" cx="481.9" cy="210.0" r="3.1"/>
<circle class="t" cx="419.1" cy="99.6" r="3.1"/>
<circle class="t" cx="217.0" cy="189.4" r="3.1"/>
<circle class="r" cx="190.6" cy="153.1" r="3.1"/>
<circle class="t" cx="511.8" cy="112.8" r="3.1"/>
<circle class="t" cx="302.4" cy="159.7" r="3.1"/>
<circle class="r" cx="90.7" cy="324.7" r="3.1"/>
<circle class="r" cx="343.8" cy="170.7" r="3.1"/>
<circle class="t" cx="631.0" cy="89.8" r="3.1"/>
<circle class="t" cx="625.9" cy="59.9" r="3.1"/>
<circle class="r" cx="220.7" cy="212.9" r="3.1"/>
<circle class="t" cx="87.2" cy="422.6" r="3.1"/>
<circle class="r" cx="450.5" cy="221.5" r="3.1"/>
<circle class="t" cx="118.0" cy="290.2" r="3.1"/>
<circle class="r" cx="531.7" cy="207.4" r="3.1"/>
<circle class="t" cx="576.4" cy="94.4" r="3.1"/>
<circle class="t" cx="613.5" cy="96.3" r="3.1"/>
<circle class="r" cx="302.4" cy="233.8" r="3.1"/>
<circle class="t" cx="625.8" cy="108.3" r="3.1"/>
<circle class="t" cx="96.5" cy="408.2" r="3.1"/>
<circle class="r" cx="293.8" cy="210.5" r="3.1"/>
<circle class="r" cx="100.7" cy="289.4" r="3.1"/>
<circle class="t" cx="167.1" cy="201.1" r="3.1"/>
<circle class="r" cx="246.9" cy="137.2" r="3.1"/>
<circle class="t" cx="115.7" cy="312.8" r="3.1"/>
<circle class="t" cx="97.6" cy="403.0" r="3.1"/>
<circle class="t" cx="244.6" cy="164.9" r="3.1"/>
<circle class="r" cx="213.3" cy="251.1" r="3.1"/>
<circle class="r" cx="163.8" cy="158.1" r="3.1"/>
<circle class="t" cx="319.8" cy="154.7" r="3.1"/>
<circle class="r" cx="584.6" cy="158.1" r="3.1"/>
<circle class="r" cx="173.3" cy="164.5" r="3.1"/>
<circle class="r" cx="110.6" cy="258.8" r="3.1"/>
<circle class="r" cx="619.3" cy="182.9" r="3.1"/>
<circle class="r" cx="545.7" cy="213.2" r="3.1"/>
<circle class="r" cx="173.5" cy="171.8" r="3.1"/>
<circle class="r" cx="230.6" cy="201.3" r="3.1"/>
<circle class="r" cx="611.9" cy="163.8" r="3.1"/>
<circle class="r" cx="500.2" cy="157.2" r="3.1"/>
<circle class="r" cx="147.3" cy="216.7" r="3.1"/>
<circle class="r" cx="271.5" cy="185.7" r="3.1"/>
<circle class="t" cx="605.3" cy="85.5" r="3.1"/>
<circle class="r" cx="608.6" cy="150.6" r="3.1"/>
<circle class="t" cx="629.9" cy="48.0" r="3.1"/>
<circle class="t" cx="577.9" cy="80.1" r="3.1"/>
<circle class="r" cx="347.9" cy="227.7" r="3.1"/>
<circle class="t" cx="531.7" cy="94.6" r="3.1"/>
<circle class="r" cx="255.0" cy="193.1" r="3.1"/>
<circle class="t" cx="357.8" cy="104.8" r="3.1"/>
<circle class="r" cx="132.4" cy="218.3" r="3.1"/>
<circle class="r" cx="362.8" cy="210.4" r="3.1"/>
<circle class="r" cx="339.9" cy="241.2" r="3.1"/>
<circle class="t" cx="456.6" cy="133.0" r="3.1"/>
<circle class="t" cx="207.0" cy="201.2" r="3.1"/>
<circle class="t" cx="473.7" cy="118.6" r="3.1"/>
<circle class="t" cx="526.6" cy="97.9" r="3.1"/>
<circle class="t" cx="631.6" cy="82.9" r="3.1"/>
<circle class="r" cx="530.8" cy="121.1" r="3.1"/>
<circle class="t" cx="86.6" cy="422.9" r="3.1"/>
<circle class="t" cx="617.7" cy="126.3" r="3.1"/>
<circle class="t" cx="134.4" cy="276.6" r="3.1"/>
<circle class="t" cx="434.8" cy="78.1" r="3.1"/>
<circle class="t" cx="556.4" cy="84.7" r="3.1"/>
<circle class="t" cx="170.7" cy="237.5" r="3.1"/>
<circle class="r" cx="433.9" cy="192.8" r="3.1"/>
<circle class="t" cx="621.7" cy="97.0" r="3.1"/>
<circle class="r" cx="512.6" cy="151.4" r="3.1"/>
<circle class="t" cx="377.7" cy="134.5" r="3.1"/>
<circle class="r" cx="625.0" cy="125.7" r="3.1"/>
<circle class="t" cx="468.7" cy="131.7" r="3.1"/>
<circle class="t" cx="141.5" cy="263.8" r="3.1"/>
<circle class="t" cx="277.8" cy="161.8" r="3.1"/>
<circle class="t" cx="214.6" cy="189.6" r="3.1"/>
<circle class="t" cx="594.5" cy="84.7" r="3.1"/>
<circle class="r" cx="97.4" cy="281.1" r="3.1"/>
<circle class="r" cx="638.6" cy="190.5" r="3.1"/>
<circle class="r" cx="618.3" cy="203.7" r="3.1"/>
<circle class="r" cx="275.7" cy="169.4" r="3.1"/>
<circle class="t" cx="482.0" cy="125.8" r="3.1"/>
<circle class="t" cx="533.3" cy="123.6" r="3.1"/>
<circle class="t" cx="128.8" cy="291.3" r="3.1"/>
<circle class="r" cx="157.2" cy="197.8" r="3.1"/>
<circle class="r" cx="410.8" cy="189.5" r="3.1"/>
<circle class="t" cx="610.2" cy="79.8" r="3.1"/>
<circle class="r" cx="111.6" cy="263.2" r="3.1"/>
<circle class="r" cx="112.2" cy="216.7" r="3.1"/>
<circle class="t" cx="602.8" cy="78.9" r="3.1"/>
<circle class="r" cx="495.2" cy="180.4" r="3.1"/>
<circle class="r" cx="601.1" cy="146.5" r="3.1"/>
<circle class="t" cx="283.1" cy="126.4" r="3.1"/>
<circle class="r" cx="94.9" cy="309.8" r="3.1"/>
<circle class="r" cx="515.1" cy="181.2" r="3.1"/>
<circle class="r" cx="226.5" cy="135.4" r="3.1"/>
<circle class="r" cx="289.7" cy="167.7" r="3.1"/>
<circle class="t" cx="298.9" cy="162.2" r="3.1"/>
<circle class="t" cx="118.8" cy="331.3" r="3.1"/>
<circle class="r" cx="365.3" cy="183.9" r="3.1"/>
<circle class="t" cx="160.5" cy="234.8" r="3.1"/>
<circle class="t" cx="148.1" cy="264.6" r="3.1"/>
<circle class="r" cx="565.5" cy="137.4" r="3.1"/>
<circle class="t" cx="352.9" cy="129.3" r="3.1"/>
<circle class="r" cx="448.9" cy="207.7" r="3.1"/>
<circle class="r" cx="203.2" cy="215.7" r="3.1"/>
<circle class="r" cx="519.2" cy="214.0" r="3.1"/>
<circle class="r" cx="555.6" cy="221.5" r="3.1"/>
<circle class="t" cx="581.3" cy="84.7" r="3.1"/>
<circle class="r" cx="454.7" cy="262.9" r="3.1"/>
<circle class="r" cx="387.6" cy="231.2" r="3.1"/>
<circle class="r" cx="134.9" cy="242.3" r="3.1"/>
<circle class="t" cx="544.9" cy="117.8" r="3.1"/>
<circle class="r" cx="288.3" cy="162.6" r="3.1"/>
<circle class="t" cx="295.1" cy="192.6" r="3.1"/>
<circle class="t" cx="573.6" cy="86.7" r="3.1"/>
<circle class="t" cx="569.7" cy="116.1" r="3.1"/>
<circle class="t" cx="106.4" cy="344.5" r="3.1"/>
<circle class="r" cx="463.8" cy="233.9" r="3.1"/>
<circle class="t" cx="322.2" cy="147.3" r="3.1"/>
<circle class="t" cx="616.3" cy="127.6" r="3.1"/>
<circle class="r" cx="635.7" cy="176.1" r="3.1"/>
<circle class="t" cx="87.9" cy="419.6" r="3.1"/>
<circle class="t" cx="113.0" cy="328.8" r="3.1"/>
<circle class="r" cx="507.6" cy="127.7" r="3.1"/>
<circle class="t" cx="221.5" cy="207.1" r="3.1"/>
<circle class="t" cx="506.4" cy="95.7" r="3.1"/>
<circle class="t" cx="213.5" cy="200.4" r="3.1"/>
<circle class="t" cx="634.0" cy="73.8" r="3.1"/>
<circle class="t" cx="381.0" cy="120.5" r="3.1"/>
<circle class="t" cx="629.9" cy="43.3" r="3.1"/>
<circle class="t" cx="414.1" cy="95.5" r="3.1"/>
<circle class="r" cx="221.5" cy="163.3" r="3.1"/>
<circle class="t" cx="636.5" cy="78.8" r="3.1"/>
<circle class="r" cx="627.4" cy="157.9" r="3.1"/>
<circle class="t" cx="273.1" cy="125.5" r="3.1"/>
<circle class="t" cx="529.1" cy="85.5" r="3.1"/>
<circle class="t" cx="607.3" cy="93.5" r="3.1"/>
<circle class="r" cx="620.1" cy="151.4" r="3.1"/>
<circle class="t" cx="447.2" cy="103.8" r="3.1"/>
<circle class="r" cx="635.5" cy="180.0" r="3.1"/>
<circle class="t" cx="93.2" cy="374.6" r="3.1"/>
<circle class="t" cx="616.8" cy="125.2" r="3.1"/>
<circle class="t" cx="553.1" cy="112.8" r="3.1"/>
<circle class="r" cx="324.7" cy="204.9" r="3.1"/>
<circle class="t" cx="624.3" cy="98.8" r="3.1"/>
<circle class="t" cx="516.7" cy="104.5" r="3.1"/>
<circle class="r" cx="551.5" cy="248.8" r="3.1"/>
<circle class="t" cx="383.3" cy="99.0" r="3.1"/>
<circle class="r" cx="611.9" cy="147.3" r="3.1"/>
<circle class="r" cx="376.8" cy="191.4" r="3.1"/>
<circle class="r" cx="291.2" cy="167.9" r="3.1"/>
<circle class="t" cx="340.5" cy="156.9" r="3.1"/>
<circle class="t" cx="162.0" cy="227.3" r="3.1"/>
<circle class="r" cx="207.1" cy="233.8" r="3.1"/>
<circle class="t" cx="566.6" cy="108.2" r="3.1"/>
<circle class="t" cx="351.4" cy="140.5" r="3.1"/>
<circle class="t" cx="207.7" cy="194.7" r="3.1"/>
<circle class="r" cx="279.8" cy="153.6" r="3.1"/>
<circle class="t" cx="167.1" cy="231.5" r="3.1"/>
<circle class="r" cx="246.3" cy="123.0" r="3.1"/>
<circle class="t" cx="386.8" cy="122.8" r="3.1"/>
<circle class="r" cx="218.2" cy="227.8" r="3.1"/>
<circle class="r" cx="437.3" cy="207.7" r="3.1"/>
<circle class="r" cx="384.3" cy="188.1" r="3.1"/>
<circle class="t" cx="563.2" cy="101.2" r="3.1"/>
<circle class="t" cx="557.6" cy="119.5" r="3.1"/>
<circle class="r" cx="109.8" cy="229.0" r="3.1"/>
<circle class="t" cx="535.4" cy="117.7" r="3.1"/>
<circle class="t" cx="621.7" cy="104.4" r="3.1"/>
<circle class="t" cx="229.8" cy="185.4" r="3.1"/>
<circle class="t" cx="363.6" cy="94.0" r="3.1"/>
<circle class="r" cx="211.6" cy="198.0" r="3.1"/>
<circle class="r" cx="354.5" cy="234.3" r="3.1"/>
<circle class="r" cx="228.7" cy="163.9" r="3.1"/>
<circle class="t" cx="579.7" cy="79.8" r="3.1"/>
<circle class="r" cx="433.9" cy="208.3" r="3.1"/>
<circle class="t" cx="108.9" cy="343.1" r="3.1"/>
<circle class="r" cx="458.8" cy="201.1" r="3.1"/>
<circle class="t" cx="130.2" cy="287.9" r="3.1"/>
<circle class="t" cx="481.9" cy="112.0" r="3.1"/>
<circle class="t" cx="153.9" cy="241.4" r="3.1"/>
<circle class="t" cx="293.3" cy="176.2" r="3.1"/>
<circle class="t" cx="400.9" cy="90.5" r="3.1"/>
<circle class="t" cx="474.5" cy="89.7" r="3.1"/>
<circle class="r" cx="395.9" cy="197.8" r="3.1"/>
<circle class="r" cx="520.8" cy="197.7" r="3.1"/>
<circle class="t" cx="144.0" cy="267.9" r="3.1"/>
<circle class="r" cx="156.4" cy="230.7" r="3.1"/>
<circle class="t" cx="510.9" cy="117.8" r="3.1"/>
<circle class="t" cx="521.7" cy="97.9" r="3.1"/>
<circle class="t" cx="519.2" cy="107.9" r="3.1"/>
<circle class="r" cx="105.8" cy="285.5" r="3.1"/>
<circle class="r" cx="331.3" cy="221.4" r="3.1"/>
<circle class="t" cx="130.4" cy="290.3" r="3.1"/>
<circle class="r" cx="399.2" cy="224.0" r="3.1"/>
<circle class="t" cx="113.6" cy="337.2" r="3.1"/>
<circle class="r" cx="90.7" cy="308.2" r="3.1"/>
<circle class="r" cx="605.3" cy="136.6" r="3.1"/>
<circle class="r" cx="429.8" cy="276.1" r="3.1"/>
<circle class="t" cx="305.7" cy="116.1" r="3.1"/>
<circle class="r" cx="175.5" cy="181.6" r="3.1"/>
<circle class="r" cx="133.8" cy="195.4" r="3.1"/>
<circle class="r" cx="434.8" cy="175.5" r="3.1"/>
<circle class="r" cx="338.8" cy="231.0" r="3.1"/>
<circle class="t" cx="198.0" cy="153.1" r="3.1"/>
<circle class="t" cx="113.0" cy="341.0" r="3.1"/>
<circle class="t" cx="270.7" cy="180.7" r="3.1"/>
<circle class="t" cx="110.6" cy="340.9" r="3.1"/>
<circle class="t" cx="360.3" cy="146.9" r="3.1"/>
<circle class="t" cx="208.2" cy="196.7" r="3.1"/>
<circle class="t" cx="468.7" cy="147.4" r="3.1"/>
<circle class="r" cx="186.5" cy="186.1" r="3.1"/>
<circle class="r" cx="328.0" cy="218.1" r="3.1"/>
<circle class="t" cx="134.8" cy="262.4" r="3.1"/>
<circle class="r" cx="452.2" cy="182.9" r="3.1"/>
<circle class="r" cx="244.7" cy="110.6" r="3.1"/>
<circle class="t" cx="437.3" cy="121.1" r="3.1"/>
<circle class="t" cx="385.9" cy="119.7" r="3.1"/>
<circle class="t" cx="281.8" cy="141.5" r="3.1"/>
<circle class="r" cx="248.8" cy="137.9" r="3.1"/>
<circle class="r" cx="325.5" cy="223.1" r="3.1"/>
<circle class="r" cx="338.0" cy="276.5" r="3.1"/>
<circle class="t" cx="626.1" cy="60.6" r="3.1"/>
<circle class="t" cx="136.4" cy="276.4" r="3.1"/>
<circle class="t" cx="397.1" cy="90.9" r="3.1"/>
<circle class="r" cx="497.7" cy="203.3" r="3.1"/>
<circle class="t" cx="627.4" cy="47.4" r="3.1"/>
<circle class="r" cx="294.6" cy="221.2" r="3.1"/>
<circle class="r" cx="446.4" cy="248.8" r="3.1"/>
<circle class="r" cx="200.5" cy="230.5" r="3.1"/>
<circle class="t" cx="558.9" cy="125.0" r="3.1"/>
<circle class="r" cx="179.9" cy="213.2" r="3.1"/>
<circle class="t" cx="223.2" cy="140.4" r="3.1"/>
<circle class="r" cx="601.1" cy="180.4" r="3.1"/>
<circle class="r" cx="478.6" cy="224.0" r="3.1"/>
<circle class="t" cx="538.9" cy="106.5" r="3.1"/>
<circle class="t" cx="425.7" cy="125.2" r="3.1"/>
<circle class="t" cx="575.5" cy="69.0" r="3.1"/>
<circle class="t" cx="526.0" cy="82.4" r="3.1"/>
<circle class="t" cx="246.3" cy="173.2" r="3.1"/>
<circle class="t" cx="296.3" cy="167.7" r="3.1"/>
<circle class="t" cx="320.6" cy="174.5" r="3.1"/>
<circle class="r" cx="373.5" cy="226.1" r="3.1"/>
<circle class="r" cx="290.5" cy="135.5" r="3.1"/>
<circle class="t" cx="442.0" cy="128.5" r="3.1"/>
<circle class="t" cx="244.7" cy="186.4" r="3.1"/>
<circle class="r" cx="651.0" cy="215.9" r="3.1"/>
<circle class="t" cx="266.5" cy="162.7" r="3.1"/>
<circle class="t" cx="606.9" cy="95.5" r="3.1"/>
<circle class="r" cx="226.5" cy="208.8" r="3.1"/>
<circle class="r" cx="382.6" cy="219.5" r="3.1"/>
<circle class="r" cx="94.0" cy="293.3" r="3.1"/>
<circle class="r" cx="169.1" cy="143.1" r="3.1"/>
<circle class="t" cx="606.6" cy="83.1" r="3.1"/>
<circle class="t" cx="264.0" cy="137.9" r="3.1"/>
<circle class="r" cx="358.7" cy="208.7" r="3.1"/>
<circle class="t" cx="111.4" cy="335.7" r="3.1"/>
<circle class="r" cx="639.2" cy="176.9" r="3.1"/>
<circle class="r" cx="439.0" cy="215.7" r="3.1"/>
<circle class="r" cx="602.8" cy="168.0" r="3.1"/>
<circle class="t" cx="589.6" cy="89.7" r="3.1"/>
<circle class="t" cx="620.3" cy="101.7" r="3.1"/>
<circle class="r" cx="569.7" cy="138.2" r="3.1"/>
<circle class="r" cx="631.6" cy="158.7" r="3.1"/>
<circle class="r" cx="210.2" cy="246.8" r="3.1"/>
<circle class="t" cx="362.7" cy="123.1" r="3.1"/>
<circle class="r" cx="623.3" cy="175.2" r="3.1"/>
<circle class="t" cx="431.5" cy="109.5" r="3.1"/>
<circle class="t" cx="206.8" cy="171.4" r="3.1"/>
<circle class="t" cx="508.4" cy="87.2" r="3.1"/>
<circle class="r" cx="577.9" cy="153.9" r="3.1"/>
<circle class="r" cx="164.7" cy="186.2" r="3.1"/>
<circle class="t" cx="540.8" cy="121.9" r="3.1"/>
<circle class="t" cx="624.8" cy="76.8" r="3.1"/>
<circle class="t" cx="293.5" cy="172.1" r="3.1"/>
<circle class="r" cx="421.5" cy="196.1" r="3.1"/>
<circle class="r" cx="371.0" cy="200.5" r="3.1"/>
<circle class="t" cx="97.2" cy="370.7" r="3.1"/>
<circle class="t" cx="400.9" cy="81.4" r="3.1"/>
<circle class="t" cx="631.6" cy="54.8" r="3.1"/>
<circle class="r" cx="531.7" cy="172.9" r="3.1"/>
<circle class="t" cx="105.4" cy="364.0" r="3.1"/>
<circle class="t" cx="501.8" cy="113.6" r="3.1"/>
<circle class="t" cx="386.3" cy="107.5" r="3.1"/>
<circle class="r" cx="291.7" cy="165.2" r="3.1"/>
<circle class="t" cx="139.2" cy="284.6" r="3.1"/>
<circle class="r" cx="448.9" cy="208.3" r="3.1"/>
<circle class="r" cx="351.0" cy="246.1" r="3.1"/>
<circle class="t" cx="410.3" cy="88.2" r="3.1"/>
<circle class="t" cx="421.5" cy="103.8" r="3.1"/>
<circle class="r" cx="581.3" cy="173.8" r="3.1"/>
<circle class="t" cx="630.1" cy="78.2" r="3.1"/>
<circle class="r" cx="544.0" cy="138.2" r="3.1"/>
<circle class="t" cx="448.9" cy="126.1" r="3.1"/>
<circle class="t" cx="475.3" cy="125.7" r="3.1"/>
<circle class="r" cx="571.3" cy="169.6" r="3.1"/>
<circle class="t" cx="419.1" cy="93.8" r="3.1"/>
<circle class="r" cx="587.9" cy="192.8" r="3.1"/>
<circle class="t" cx="364.4" cy="114.7" r="3.1"/>
<circle class="t" cx="623.3" cy="82.9" r="3.1"/>
<circle class="r" cx="477.0" cy="208.3" r="3.1"/>
<circle class="t" cx="117.4" cy="289.7" r="3.1"/>
<circle class="r" cx="633.2" cy="162.9" r="3.1"/>
<circle class="t" cx="93.2" cy="382.6" r="3.1"/>
<circle class="r" cx="500.2" cy="177.9" r="3.1"/>
<circle class="t" cx="189.0" cy="159.7" r="3.1"/>
<circle class="t" cx="390.1" cy="131.9" r="3.1"/>
<circle class="t" cx="164.2" cy="237.0" r="3.1"/>
<circle class="r" cx="447.2" cy="268.6" r="3.1"/>
<circle class="t" cx="358.8" cy="129.9" r="3.1"/>
<circle class="t" cx="226.5" cy="184.8" r="3.1"/>
<circle class="t" cx="173.3" cy="198.3" r="3.1"/>
<circle class="t" cx="311.5" cy="127.4" r="3.1"/>
<circle class="r" cx="495.2" cy="201.0" r="3.1"/>
<circle class="r" cx="454.7" cy="186.2" r="3.1"/>
<circle class="t" cx="647.4" cy="78.6" r="3.1"/>
<circle class="t" cx="638.2" cy="83.8" r="3.1"/>
<circle class="t" cx="434.7" cy="105.2" r="3.1"/>
<circle class="r" cx="447.2" cy="227.3" r="3.1"/>
<circle class="t" cx="497.7" cy="108.7" r="3.1"/>
<circle class="t" cx="320.9" cy="146.3" r="3.1"/>
<circle class="t" cx="168.3" cy="197.7" r="3.1"/>
<circle class="t" cx="128.0" cy="298.7" r="3.1"/>
<circle class="t" cx="107.3" cy="362.7" r="3.1"/>
<circle class="r" cx="184.8" cy="208.2" r="3.1"/>
<circle class="t" cx="539.9" cy="88.8" r="3.1"/>
<circle class="t" cx="125.5" cy="322.3" r="3.1"/>
<circle class="r" cx="337.9" cy="203.3" r="3.1"/>
<circle class="r" cx="467.1" cy="200.2" r="3.1"/>
<circle class="r" cx="529.1" cy="121.1" r="3.1"/>
<circle class="r" cx="584.6" cy="165.5" r="3.1"/>
<circle class="t" cx="336.8" cy="144.1" r="3.1"/>
<circle class="r" cx="355.4" cy="156.9" r="3.1"/>
<circle class="t" cx="291.3" cy="133.0" r="3.1"/>
<circle class="t" cx="651.9" cy="84.0" r="3.1"/>
<circle class="t" cx="111.0" cy="349.3" r="3.1"/>
<circle class="t" cx="633.8" cy="77.8" r="3.1"/>
<circle class="t" cx="125.7" cy="274.0" r="3.1"/>
<circle class="r" cx="141.5" cy="153.2" r="3.1"/>
<circle class="r" cx="383.5" cy="199.6" r="3.1"/>
<circle class="r" cx="477.8" cy="181.2" r="3.1"/>
<circle class="r" cx="491.9" cy="224.0" r="3.1"/>
<circle class="r" cx="577.1" cy="197.7" r="3.1"/>
<circle class="t" cx="447.2" cy="132.7" r="3.1"/>
<circle class="t" cx="294.1" cy="200.0" r="3.1"/>
<circle class="t" cx="121.5" cy="283.1" r="3.1"/>
<circle class="t" cx="569.7" cy="83.1" r="3.1"/>
<circle class="t" cx="179.9" cy="186.1" r="3.1"/>
<circle class="t" cx="173.7" cy="238.0" r="3.1"/>
<circle class="r" cx="475.3" cy="238.1" r="3.1"/>
<circle class="t" cx="387.4" cy="119.6" r="3.1"/>
<circle class="r" cx="133.3" cy="236.5" r="3.1"/>
<circle class="t" cx="290.4" cy="163.6" r="3.1"/>
<circle class="t" cx="177.4" cy="192.7" r="3.1"/>
<circle class="t" cx="119.9" cy="309.5" r="3.1"/>
<circle class="t" cx="193.9" cy="176.2" r="3.1"/>
<circle class="t" cx="333.3" cy="140.1" r="3.1"/>
<circle class="t" cx="567.9" cy="89.6" r="3.1"/>
<circle class="t" cx="112.9" cy="350.6" r="3.1"/>
<circle class="r" cx="128.9" cy="206.1" r="3.1"/>
<circle class="r" cx="643.5" cy="176.2" r="3.1"/>
<circle class="r" cx="579.7" cy="163.0" r="3.1"/>
<circle class="t" cx="288.0" cy="156.1" r="3.1"/>
<circle class="r" cx="530.8" cy="191.1" r="3.1"/>
<circle class="t" cx="417.2" cy="110.3" r="3.1"/>
<circle class="t" cx="573.0" cy="102.9" r="3.1"/>
<circle class="r" cx="558.1" cy="215.7" r="3.1"/>
<circle class="t" cx="85.2" cy="428.8" r="3.1"/>
<circle class="r" cx="397.6" cy="183.7" r="3.1"/>
<circle class="t" cx="269.8" cy="157.8" r="3.1"/>
<circle class="t" cx="109.1" cy="328.5" r="3.1"/>
<circle class="t" cx="244.7" cy="154.4" r="3.1"/>
<circle class="r" cx="287.2" cy="185.7" r="3.1"/>
<circle class="r" cx="650.6" cy="152.9" r="3.1"/>
<circle class="t" cx="206.7" cy="191.4" r="3.1"/>
<circle class="t" cx="568.0" cy="102.9" r="3.1"/>
<circle class="t" cx="266.5" cy="176.6" r="3.1"/>
<circle class="t" cx="534.1" cy="96.0" r="3.1"/>
<circle class="t" cx="125.2" cy="301.4" r="3.1"/>
<circle class="r" cx="301.6" cy="181.2" r="3.1"/>
<circle class="r" cx="619.3" cy="146.5" r="3.1"/>
<circle class="t" cx="270.7" cy="138.8" r="3.1"/>
<circle class="r" cx="595.3" cy="221.0" r="3.1"/>
<circle class="t" cx="179.9" cy="172.9" r="3.1"/>
<circle class="r" cx="122.3" cy="173.9" r="3.1"/>
<circle class="r" cx="472.0" cy="187.9" r="3.1"/>
<circle class="t" cx="385.2" cy="104.4" r="3.1"/>
<circle class="t" cx="105.8" cy="390.6" r="3.1"/>
<circle class="t" cx="295.1" cy="149.4" r="3.1"/>
<circle class="r" cx="87.4" cy="338.8" r="3.1"/>
<circle class="r" cx="128.9" cy="217.7" r="3.1"/>
<circle class="t" cx="458.8" cy="131.7" r="3.1"/>
<circle class="t" cx="157.2" cy="254.7" r="3.1"/>
<circle class="r" cx="271.7" cy="200.5" r="3.1"/>
<circle class="r" cx="541.6" cy="203.5" r="3.1"/>
<circle class="t" cx="109.1" cy="351.3" r="3.1"/>
<circle class="t" cx="168.8" cy="249.7" r="3.1"/>
<circle class="t" cx="101.5" cy="365.2" r="3.1"/>
<circle class="r" cx="369.4" cy="156.7" r="3.1"/>
<circle class="r" cx="265.7" cy="212.1" r="3.1"/>
<circle class="r" cx="404.2" cy="230.6" r="3.1"/>
<circle class="r" cx="118.0" cy="223.3" r="3.1"/>
<circle class="t" cx="133.1" cy="300.4" r="3.1"/>
<circle class="t" cx="128.1" cy="294.6" r="3.1"/>
<circle class="t" cx="609.2" cy="86.3" r="3.1"/>
<circle class="t" cx="168.8" cy="236.5" r="3.1"/>
<circle class="r" cx="622.5" cy="165.3" r="3.1"/>
<circle class="r" cx="294.1" cy="167.9" r="3.1"/>
<circle class="t" cx="344.6" cy="139.5" r="3.1"/>
<circle class="r" cx="577.9" cy="143.2" r="3.1"/>
<circle class="t" cx="126.5" cy="299.6" r="3.1"/>
<circle class="t" cx="591.2" cy="93.8" r="3.1"/>
<circle class="r" cx="463.8" cy="208.3" r="3.1"/>
<circle class="t" cx="384.8" cy="90.0" r="3.1"/>
<circle class="r" cx="653.9" cy="138.1" r="3.1"/>
<circle class="t" cx="291.7" cy="169.6" r="3.1"/>
<circle class="t" cx="266.5" cy="151.2" r="3.1"/>
<circle class="t" cx="233.1" cy="210.4" r="3.1"/>
<circle class="r" cx="475.3" cy="207.7" r="3.1"/>
<circle class="r" cx="407.5" cy="208.3" r="3.1"/>
<circle class="r" cx="121.3" cy="215.8" r="3.1"/>
<circle class="r" cx="412.4" cy="206.9" r="3.1"/>
<circle class="t" cx="340.4" cy="124.5" r="3.1"/>
<circle class="t" cx="633.2" cy="64.8" r="3.1"/>
<circle class="r" cx="118.0" cy="217.5" r="3.1"/>
<circle class="t" cx="373.5" cy="119.7" r="3.1"/>
<circle class="t" cx="86.2" cy="389.6" r="3.1"/>
<circle class="t" cx="139.9" cy="291.0" r="3.1"/>
<circle class="r" cx="510.9" cy="135.7" r="3.1"/>
<circle class="t" cx="586.3" cy="102.9" r="3.1"/>
<circle class="r" cx="169.6" cy="176.5" r="3.1"/>
<circle class="t" cx="513.4" cy="99.6" r="3.1"/>
<circle class="t" cx="436.5" cy="84.8" r="3.1"/>
<circle class="r" cx="104.8" cy="248.0" r="3.1"/>
<circle class="t" cx="147.3" cy="243.9" r="3.1"/>
<circle class="t" cx="106.5" cy="391.8" r="3.1"/>
<circle class="r" cx="384.5" cy="236.2" r="3.1"/>
<circle class="r" cx="641.7" cy="188.6" r="3.1"/>
<circle class="r" cx="218.2" cy="186.4" r="3.1"/>
<circle class="r" cx="602.8" cy="154.8" r="3.1"/>
<circle class="r" cx="175.7" cy="164.6" r="3.1"/>
<circle class="t" cx="248.8" cy="142.9" r="3.1"/>
<circle class="t" cx="145.7" cy="277.8" r="3.1"/>
<circle class="t" cx="645.6" cy="59.0" r="3.1"/>
<circle class="r" cx="555.6" cy="197.7" r="3.1"/>
<circle class="r" cx="214.9" cy="173.2" r="3.1"/>
<circle class="t" cx="294.1" cy="157.2" r="3.1"/>
<circle class="r" cx="418.2" cy="202.7" r="3.1"/>
<circle class="r" cx="488.6" cy="217.4" r="3.1"/>
<circle class="r" cx="319.8" cy="226.4" r="3.1"/>
<circle class="t" cx="292.7" cy="144.9" r="3.1"/>
<circle class="t" cx="163.8" cy="211.0" r="3.1"/>
<circle class="t" cx="323.1" cy="164.6" r="3.1"/>
<circle class="t" cx="442.2" cy="114.9" r="3.1"/>
<circle class="t" cx="107.9" cy="365.8" r="3.1"/>
<circle class="t" cx="430.6" cy="85.6" r="3.1"/>
<circle class="t" cx="490.3" cy="62.4" r="3.1"/>
<circle class="t" cx="600.9" cy="75.9" r="3.1"/>
<circle class="r" cx="598.7" cy="203.5" r="3.1"/>
<circle class="r" cx="467.1" cy="207.7" r="3.1"/>
<circle class="r" cx="286.4" cy="162.7" r="3.1"/>
<circle class="r" cx="264.9" cy="128.0" r="3.1"/>
<circle class="r" cx="291.7" cy="133.2" r="3.1"/>
<circle class="t" cx="166.7" cy="213.2" r="3.1"/>
<circle class="r" cx="308.2" cy="192.7" r="3.1"/>
<circle class="r" cx="617.7" cy="201.9" r="3.1"/>
<circle class="r" cx="253.3" cy="159.4" r="3.1"/>
<circle class="r" cx="158.1" cy="180.5" r="3.1"/>
<circle class="r" cx="608.6" cy="158.9" r="3.1"/>
<circle class="t" cx="328.0" cy="123.6" r="3.1"/>
<circle class="r" cx="473.7" cy="202.7" r="3.1"/>
<circle class="r" cx="569.7" cy="163.8" r="3.1"/>
<circle class="t" cx="431.5" cy="76.5" r="3.1"/>
<circle class="r" cx="567.2" cy="125.2" r="3.1"/>
<circle class="r" cx="161.6" cy="157.7" r="3.1"/>
<circle class="r" cx="517.5" cy="205.8" r="3.1"/>
<circle class="t" cx="418.6" cy="87.5" r="3.1"/>
<circle class="t" cx="385.9" cy="92.4" r="3.1"/>
<circle class="r" cx="226.5" cy="178.2" r="3.1"/>
<circle class="t" cx="294.6" cy="194.8" r="3.1"/>
<circle class="r" cx="316.4" cy="201.6" r="3.1"/>
<circle class="r" cx="598.4" cy="203.7" r="3.1"/>
<circle class="t" cx="462.9" cy="98.8" r="3.1"/>
<circle class="r" cx="395.9" cy="163.1" r="3.1"/>
<circle class="t" cx="392.6" cy="139.9" r="3.1"/>
<circle class="r" cx="436.5" cy="225.7" r="3.1"/>
<circle class="r" cx="468.7" cy="221.5" r="3.1"/>
<circle class="t" cx="324.7" cy="141.5" r="3.1"/>
<circle class="t" cx="252.5" cy="167.5" r="3.1"/>
<circle class="r" cx="559.8" cy="186.2" r="3.1"/>
<circle class="r" cx="504.3" cy="158.1" r="3.1"/>
<circle class="r" cx="276.4" cy="198.1" r="3.1"/>
<circle class="r" cx="295.4" cy="161.1" r="3.1"/>
<circle class="t" cx="101.7" cy="365.5" r="3.1"/>
<circle class="t" cx="307.2" cy="114.5" r="3.1"/>
<circle class="r" cx="646.0" cy="183.7" r="3.1"/>
<circle class="r" cx="85.3" cy="364.4" r="3.1"/>
<circle class="t" cx="619.3" cy="101.2" r="3.1"/>
<circle class="r" cx="277.3" cy="170.0" r="3.1"/>
<circle class="t" cx="380.1" cy="138.7" r="3.1"/>
<circle class="t" cx="127.3" cy="276.2" r="3.1"/>
<circle class="r" cx="149.8" cy="196.2" r="3.1"/>
<circle class="t" cx="213.1" cy="187.5" r="3.1"/>
<circle class="t" cx="204.7" cy="169.6" r="3.1"/>
<circle class="t" cx="575.5" cy="83.9" r="3.1"/>
<circle class="t" cx="240.5" cy="205.5" r="3.1"/>
<circle class="r" cx="101.5" cy="266.2" r="3.1"/>
<circle class="r" cx="557.3" cy="209.1" r="3.1"/>
<circle class="t" cx="490.7" cy="76.9" r="3.1"/>
<circle class="t" cx="290.5" cy="173.3" r="3.1"/>
<circle class="r" cx="116.2" cy="186.0" r="3.1"/>
<circle class="r" cx="96.5" cy="311.5" r="3.1"/>
<circle class="t" cx="336.3" cy="139.0" r="3.1"/>
<circle class="t" cx="165.0" cy="269.4" r="3.1"/>
<circle class="t" cx="282.2" cy="144.5" r="3.1"/>
<circle class="r" cx="231.2" cy="159.7" r="3.1"/>
<circle class="r" cx="350.4" cy="230.0" r="3.1"/>
<circle class="r" cx="501.0" cy="182.9" r="3.1"/>
<circle class="r" cx="113.2" cy="213.6" r="3.1"/>
<circle class="t" cx="399.2" cy="116.2" r="3.1"/>
<circle class="r" cx="169.2" cy="164.7" r="3.1"/>
<circle class="t" cx="247.6" cy="165.6" r="3.1"/>
<circle class="t" cx="620.1" cy="93.8" r="3.1"/>
<circle class="r" cx="434.8" cy="226.5" r="3.1"/>
<circle class="t" cx="653.1" cy="87.9" r="3.1"/>
<circle class="r" cx="296.6" cy="236.3" r="3.1"/>
<circle class="t" cx="587.9" cy="68.2" r="3.1"/>
<circle class="r" cx="475.3" cy="223.2" r="3.1"/>
<circle class="t" cx="308.1" cy="133.7" r="3.1"/>
<circle class="t" cx="167.9" cy="203.1" r="3.1"/>
<circle class="r" cx="168.0" cy="172.9" r="3.1"/>
<circle class="r" cx="621.2" cy="183.7" r="3.1"/>
<circle class="t" cx="138.7" cy="270.8" r="3.1"/>
<circle class="t" cx="208.0" cy="172.9" r="3.1"/>
<circle class="t" cx="548.2" cy="124.4" r="3.1"/>
<circle class="r" cx="270.1" cy="160.1" r="3.1"/>
<circle class="r" cx="233.1" cy="149.5" r="3.1"/>
<circle class="t" cx="236.3" cy="189.7" r="3.1"/>
<circle class="r" cx="491.1" cy="180.4" r="3.1"/>
<circle class="t" cx="342.1" cy="116.4" r="3.1"/>
<circle class="t" cx="303.3" cy="139.0" r="3.1"/>
<circle class="r" cx="366.5" cy="256.0" r="3.1"/>
<circle class="r" cx="604.4" cy="132.4" r="3.1"/>
<circle class="r" cx="291.5" cy="168.8" r="3.1"/>
<circle class="t" cx="438.7" cy="122.6" r="3.1"/>
<circle class="t" cx="579.7" cy="99.6" r="3.1"/>
<circle class="t" cx="544.9" cy="125.0" r="3.1"/>
<circle class="r" cx="590.4" cy="197.5" r="3.1"/>
<circle class="t" cx="482.0" cy="80.6" r="3.1"/>
<circle class="t" cx="416.6" cy="114.5" r="3.1"/>
<circle class="t" cx="453.0" cy="104.6" r="3.1"/>
<circle class="r" cx="284.7" cy="195.6" r="3.1"/>
<circle class="r" cx="641.5" cy="172.8" r="3.1"/>
<circle class="r" cx="276.4" cy="177.4" r="3.1"/>
<circle class="t" cx="468.2" cy="126.1" r="3.1"/>
<circle class="t" cx="210.1" cy="182.3" r="3.1"/>
<circle class="t" cx="483.2" cy="84.7" r="3.1"/>
<circle class="t" cx="583.8" cy="63.2" r="3.1"/>
<circle class="r" cx="209.0" cy="244.3" r="3.1"/>
<circle class="t" cx="653.6" cy="85.9" r="3.1"/>
<circle class="t" cx="604.4" cy="109.5" r="3.1"/>
<circle class="r" cx="549.0" cy="241.3" r="3.1"/>
<circle class="r" cx="434.8" cy="260.4" r="3.1"/>
<circle class="t" cx="134.9" cy="284.4" r="3.1"/>
<circle class="r" cx="496.9" cy="192.8" r="3.1"/>
<circle class="t" cx="369.4" cy="123.8" r="3.1"/>
<circle class="r" cx="488.6" cy="223.1" r="3.1"/>
<circle class="r" cx="144.8" cy="201.1" r="3.1"/>
<circle class="t" cx="317.3" cy="136.5" r="3.1"/>
<circle class="t" cx="144.4" cy="254.9" r="3.1"/>
<circle class="t" cx="137.3" cy="295.4" r="3.1"/>
<circle class="r" cx="477.8" cy="197.8" r="3.1"/>
<circle class="t" cx="146.7" cy="258.9" r="3.1"/>
<circle class="r" cx="353.7" cy="199.6" r="3.1"/>
<circle class="r" cx="431.5" cy="267.0" r="3.1"/>
<circle class="r" cx="362.8" cy="203.8" r="3.1"/>
<circle class="t" cx="602.8" cy="68.2" r="3.1"/>
<circle class="r" cx="248.8" cy="117.2" r="3.1"/>
<circle class="r" cx="89.1" cy="302.4" r="3.1"/>
<circle class="t" cx="278.9" cy="148.7" r="3.1"/>
<circle class="t" cx="400.2" cy="85.3" r="3.1"/>
<circle class="t" cx="406.4" cy="123.9" r="3.1"/>
<circle class="t" cx="592.4" cy="78.1" r="3.1"/>
<circle class="t" cx="136.4" cy="276.4" r="3.1"/>
<circle class="r" cx="373.5" cy="230.2" r="3.1"/>
<circle class="r" cx="549.8" cy="268.6" r="3.1"/>
<circle class="t" cx="651.4" cy="109.4" r="3.1"/>
<circle class="t" cx="133.2" cy="296.6" r="3.1"/>
<circle class="t" cx="333.8" cy="178.7" r="3.1"/>
<circle class="t" cx="354.5" cy="140.3" r="3.1"/>
<circle class="r" cx="356.2" cy="185.6" r="3.1"/>
<circle class="r" cx="377.7" cy="246.1" r="3.1"/>
<circle class="r" cx="434.8" cy="256.2" r="3.1"/>
<circle class="r" cx="371.0" cy="156.9" r="3.1"/>
<circle class="t" cx="136.4" cy="283.1" r="3.1"/>
<circle class="t" cx="140.3" cy="270.0" r="3.1"/>
<circle class="r" cx="99.5" cy="310.4" r="3.1"/>
<circle class="t" cx="499.8" cy="86.1" r="3.1"/>
<circle class="t" cx="96.5" cy="369.9" r="3.1"/>
<circle class="t" cx="437.0" cy="92.8" r="3.1"/>
<circle class="t" cx="468.7" cy="112.9" r="3.1"/>
<circle class="r" cx="607.8" cy="175.4" r="3.1"/>
<circle class="t" cx="424.0" cy="92.2" r="3.1"/>
<circle class="r" cx="354.5" cy="170.7" r="3.1"/>
<circle class="t" cx="107.6" cy="343.2" r="3.1"/>
<circle class="t" cx="343.2" cy="114.5" r="3.1"/>
<circle class="r" cx="93.2" cy="266.2" r="3.1"/>
<circle class="t" cx="467.1" cy="118.6" r="3.1"/>
<circle class="t" cx="173.2" cy="233.0" r="3.1"/>
<circle class="t" cx="652.2" cy="110.0" r="3.1"/>
<circle class="t" cx="590.4" cy="106.2" r="3.1"/>
<circle class="t" cx="573.9" cy="105.2" r="3.1"/>
<circle class="t" cx="560.6" cy="88.8" r="3.1"/>
<circle class="t" cx="321.9" cy="144.9" r="3.1"/>
<circle class="r" cx="126.7" cy="233.2" r="3.1"/>
<circle class="r" cx="113.3" cy="274.0" r="3.1"/>
<circle class="t" cx="367.8" cy="129.6" r="3.1"/>
<circle class="r" cx="376.0" cy="217.8" r="3.1"/>
<circle class="r" cx="407.5" cy="233.9" r="3.1"/>
<circle class="r" cx="579.2" cy="198.7" r="3.1"/>
<circle class="r" cx="195.6" cy="201.6" r="3.1"/>
<circle class="t" cx="253.9" cy="165.3" r="3.1"/>
<circle class="t" cx="437.3" cy="104.6" r="3.1"/>
<circle class="r" cx="207.1" cy="222.3" r="3.1"/>
<circle class="r" cx="295.8" cy="243.8" r="3.1"/>
<circle class="r" cx="329.7" cy="211.5" r="3.1"/>
<circle class="t" cx="170.4" cy="210.2" r="3.1"/>
<circle class="t" cx="397.6" cy="85.6" r="3.1"/>
<circle class="t" cx="579.1" cy="76.6" r="3.1"/>
<circle class="r" cx="346.3" cy="210.4" r="3.1"/>
<circle class="t" cx="158.9" cy="255.5" r="3.1"/>
<circle class="t" cx="262.4" cy="133.0" r="3.1"/>
<circle class="t" cx="263.2" cy="167.7" r="3.1"/>
<circle class="r" cx="208.3" cy="236.0" r="3.1"/>
<circle class="t" cx="129.3" cy="298.4" r="3.1"/>
<circle class="r" cx="631.2" cy="180.6" r="3.1"/>
<circle class="r" cx="131.6" cy="231.5" r="3.1"/>
<circle class="t" cx="376.0" cy="148.6" r="3.1"/>
<circle class="r" cx="261.6" cy="216.2" r="3.1"/>
<circle class="t" cx="470.1" cy="114.0" r="3.1"/>
<circle class="r" cx="648.9" cy="177.7" r="3.1"/>
<circle class="r" cx="148.1" cy="204.4" r="3.1"/>
<circle class="r" cx="198.0" cy="155.5" r="3.1"/>
<circle class="r" cx="207.1" cy="219.0" r="3.1"/>
<circle class="r" cx="375.2" cy="188.1" r="3.1"/>
<circle class="r" cx="171.6" cy="159.7" r="3.1"/>
<circle class="t" cx="292.1" cy="178.2" r="3.1"/>
<circle class="r" cx="139.0" cy="238.1" r="3.1"/>
<circle class="r" cx="346.3" cy="214.5" r="3.1"/>
<circle class="r" cx="137.4" cy="244.8" r="3.1"/>
<circle class="r" cx="405.0" cy="176.3" r="3.1"/>
<circle class="t" cx="296.3" cy="133.0" r="3.1"/>
<circle class="r" cx="562.2" cy="128.3" r="3.1"/>
<circle class="r" cx="505.1" cy="176.2" r="3.1"/>
<circle class="r" cx="241.4" cy="181.5" r="3.1"/>
<circle class="t" cx="188.1" cy="146.4" r="3.1"/>
<circle class="r" cx="161.7" cy="157.9" r="3.1"/>
<circle class="t" cx="325.0" cy="150.0" r="3.1"/>
<circle class="r" cx="120.6" cy="201.2" r="3.1"/>
<circle class="r" cx="625.0" cy="210.9" r="3.1"/>
<circle class="t" cx="448.9" cy="118.6" r="3.1"/>
<circle class="t" cx="472.2" cy="120.5" r="3.1"/>
<circle class="t" cx="402.6" cy="85.2" r="3.1"/>
<circle class="r" cx="202.2" cy="263.5" r="3.1"/>
<circle class="t" cx="131.4" cy="296.3" r="3.1"/>
<circle class="t" cx="173.3" cy="211.5" r="3.1"/>
<circle class="t" cx="96.5" cy="367.7" r="3.1"/>
<circle class="t" cx="171.6" cy="208.2" r="3.1"/>
<circle class="r" cx="421.5" cy="206.9" r="3.1"/>
<circle class="t" cx="572.0" cy="98.6" r="3.1"/>
<circle class="r" cx="366.9" cy="193.8" r="3.1"/>
<circle class="r" cx="317.3" cy="186.1" r="3.1"/>
<circle class="r" cx="322.2" cy="251.2" r="3.1"/>
<circle class="t" cx="139.1" cy="288.6" r="3.1"/>
<circle class="t" cx="288.8" cy="175.5" r="3.1"/>
<circle class="t" cx="152.7" cy="262.9" r="3.1"/>
<circle class="r" cx="219.9" cy="193.1" r="3.1"/>
<circle class="r" cx="389.3" cy="197.8" r="3.1"/>
<circle class="r" cx="319.8" cy="229.7" r="3.1"/>
<circle class="r" cx="144.0" cy="196.2" r="3.1"/>
<circle class="r" cx="462.9" cy="221.5" r="3.1"/>
<circle class="t" cx="621.7" cy="92.9" r="3.1"/>
<circle class="r" cx="180.7" cy="238.8" r="3.1"/>
<circle class="r" cx="161.4" cy="168.1" r="3.1"/>
<circle class="r" cx="391.3" cy="231.2" r="3.1"/>
<circle class="r" cx="371.0" cy="183.1" r="3.1"/>
<circle class="r" cx="600.3" cy="191.9" r="3.1"/>
<circle class="t" cx="562.1" cy="84.2" r="3.1"/>
<circle class="r" cx="168.3" cy="164.6" r="3.1"/>
<circle class="r" cx="414.1" cy="165.5" r="3.1"/>
<circle class="r" cx="515.1" cy="155.6" r="3.1"/>
<circle class="t" cx="271.1" cy="145.0" r="3.1"/>
<circle class="t" cx="505.1" cy="103.3" r="3.1"/>
<circle class="r" cx="440.6" cy="195.3" r="3.1"/>
<circle class="t" cx="93.2" cy="414.3" r="3.1"/>
<circle class="t" cx="640.7" cy="57.8" r="3.1"/>
<circle class="t" cx="473.3" cy="113.7" r="3.1"/>
<circle class="t" cx="124.8" cy="302.2" r="3.1"/>
<circle class="t" cx="529.9" cy="91.3" r="3.1"/>
<circle class="t" cx="534.1" cy="125.8" r="3.1"/>
<circle class="r" cx="95.7" cy="276.2" r="3.1"/>
<circle class="t" cx="313.8" cy="113.8" r="3.1"/>
<circle class="t" cx="139.2" cy="278.9" r="3.1"/>
<circle class="t" cx="168.7" cy="251.3" r="3.1"/>
<circle class="t" cx="599.5" cy="99.6" r="3.1"/>
<circle class="t" cx="337.1" cy="153.1" r="3.1"/>
<circle class="t" cx="153.1" cy="252.2" r="3.1"/>
<circle class="r" cx="459.6" cy="269.5" r="3.1"/>
<circle class="r" cx="592.9" cy="200.6" r="3.1"/>
<circle class="r" cx="293.3" cy="211.5" r="3.1"/>
<circle class="t" cx="619.7" cy="99.2" r="3.1"/>
<circle class="r" cx="253.1" cy="118.1" r="3.1"/>
<circle class="t" cx="623.5" cy="75.8" r="3.1"/>
<circle class="r" cx="555.6" cy="200.0" r="3.1"/>
<circle class="t" cx="545.7" cy="88.0" r="3.1"/>
<circle class="r" cx="513.4" cy="148.1" r="3.1"/>
<circle class="t" cx="206.7" cy="168.3" r="3.1"/>
<circle class="t" cx="647.3" cy="80.5" r="3.1"/>
<circle class="r" cx="563.1" cy="148.1" r="3.1"/>
<circle class="t" cx="502.7" cy="102.9" r="3.1"/>
<circle class="r" cx="634.9" cy="181.0" r="3.1"/>
<circle class="t" cx="412.8" cy="120.9" r="3.1"/>
<circle class="t" cx="106.9" cy="355.1" r="3.1"/>
<circle class="r" cx="122.8" cy="165.6" r="3.1"/>
<circle class="r" cx="625.1" cy="177.1" r="3.1"/>
<circle class="r" cx="334.6" cy="246.2" r="3.1"/>
<circle class="t" cx="204.7" cy="183.1" r="3.1"/>
<circle class="t" cx="141.3" cy="261.8" r="3.1"/>
<circle class="r" cx="547.4" cy="175.4" r="3.1"/>
<circle class="r" cx="417.4" cy="181.2" r="3.1"/>
<circle class="t" cx="297.9" cy="161.1" r="3.1"/>
<circle class="r" cx="126.7" cy="224.9" r="3.1"/>
<circle class="r" cx="539.1" cy="184.5" r="3.1"/>
<circle class="t" cx="650.6" cy="106.7" r="3.1"/>
<circle class="r" cx="525.0" cy="201.0" r="3.1"/>
<circle class="r" cx="127.2" cy="175.5" r="3.1"/>
<circle class="r" cx="333.8" cy="249.5" r="3.1"/>
<circle class="t" cx="649.8" cy="104.4" r="3.1"/>
<circle class="t" cx="122.5" cy="311.9" r="3.1"/>
<circle class="r" cx="645.6" cy="167.8" r="3.1"/>
<circle class="r" cx="130.5" cy="198.7" r="3.1"/>
<circle class="r" cx="105.0" cy="260.7" r="3.1"/>
<circle class="r" cx="257.4" cy="174.9" r="3.1"/>
<circle class="t" cx="211.6" cy="204.6" r="3.1"/>
<circle class="t" cx="597.0" cy="79.8" r="3.1"/>
<circle class="t" cx="649.8" cy="83.8" r="3.1"/>
<circle class="r" cx="485.3" cy="219.8" r="3.1"/>
<circle class="t" cx="520.0" cy="88.0" r="3.1"/>
<circle class="t" cx="447.3" cy="128.2" r="3.1"/>
<circle class="r" cx="214.2" cy="215.3" r="3.1"/>
<circle class="r" cx="252.5" cy="183.2" r="3.1"/>
<circle class="r" cx="530.8" cy="149.0" r="3.1"/>
<circle class="r" cx="234.8" cy="156.1" r="3.1"/>
<circle class="t" cx="352.9" cy="135.4" r="3.1"/>
<circle class="r" cx="297.4" cy="208.2" r="3.1"/>
<circle class="r" cx="568.0" cy="126.7" r="3.1"/>
<circle class="t" cx="260.8" cy="153.9" r="3.1"/>
<circle class="t" cx="419.9" cy="97.4" r="3.1"/>
<circle class="r" cx="223.7" cy="173.4" r="3.1"/>
<circle class="r" cx="364.4" cy="165.7" r="3.1"/>
<circle class="t" cx="510.4" cy="86.6" r="3.1"/>
<circle class="t" cx="644.8" cy="63.1" r="3.1"/>
<circle class="r" cx="98.0" cy="307.4" r="3.1"/>
<circle class="t" cx="493.6" cy="79.8" r="3.1"/>
<circle class="r" cx="571.3" cy="127.7" r="3.1"/>
<circle class="t" cx="530.7" cy="86.0" r="3.1"/>
<circle class="t" cx="306.1" cy="141.6" r="3.1"/>
<circle class="r" cx="466.2" cy="228.1" r="3.1"/>
<circle class="t" cx="563.9" cy="109.5" r="3.1"/>
<circle class="r" cx="239.7" cy="147.8" r="3.1"/>
<circle class="r" cx="221.5" cy="162.7" r="3.1"/>
<circle class="t" cx="647.3" cy="87.9" r="3.1"/>
<circle class="r" cx="271.5" cy="166.0" r="3.1"/>
<circle class="t" cx="167.5" cy="234.7" r="3.1"/>
<circle class="t" cx="268.0" cy="148.1" r="3.1"/>
<circle class="r" cx="338.8" cy="261.1" r="3.1"/>
<circle class="t" cx="195.6" cy="140.7" r="3.1"/>
<circle class="t" cx="413.8" cy="110.3" r="3.1"/>
<circle class="t" cx="125.8" cy="294.0" r="3.1"/>
<circle class="t" cx="455.5" cy="133.3" r="3.1"/>
<circle class="t" cx="139.3" cy="282.6" r="3.1"/>
<circle class="r" cx="622.6" cy="203.7" r="3.1"/>
<circle class="t" cx="283.1" cy="162.7" r="3.1"/>
<circle class="t" cx="634.9" cy="100.3" r="3.1"/>
<circle class="t" cx="630.7" cy="98.6" r="3.1"/>
<circle class="t" cx="98.5" cy="384.6" r="3.1"/>
<circle class="r" cx="623.2" cy="198.7" r="3.1"/>
<circle class="t" cx="128.3" cy="276.2" r="3.1"/>
<circle class="r" cx="628.3" cy="176.1" r="3.1"/>
<circle class="r" cx="193.9" cy="241.3" r="3.1"/>
<circle class="t" cx="184.0" cy="149.8" r="3.1"/>
<circle class="t" cx="296.8" cy="196.1" r="3.1"/>
<circle class="t" cx="633.0" cy="53.9" r="3.1"/>
<circle class="t" cx="480.0" cy="78.9" r="3.1"/>
<circle class="t" cx="206.3" cy="191.1" r="3.1"/>
<circle class="r" cx="107.3" cy="218.3" r="3.1"/>
<circle class="t" cx="281.6" cy="153.2" r="3.1"/>
<circle class="t" cx="448.6" cy="131.6" r="3.1"/>
<circle class="t" cx="243.0" cy="158.5" r="3.1"/>
<circle class="r" cx="393.4" cy="253.8" r="3.1"/>
<circle class="t" cx="142.4" cy="278.6" r="3.1"/>
<circle class="r" cx="196.4" cy="165.5" r="3.1"/>
<circle class="t" cx="255.0" cy="153.6" r="3.1"/>
<circle class="t" cx="411.8" cy="94.1" r="3.1"/>
<circle class="t" cx="176.6" cy="182.8" r="3.1"/>
<circle class="r" cx="613.5" cy="154.8" r="3.1"/>
<circle class="r" cx="443.1" cy="210.8" r="3.1"/>
<circle class="t" cx="202.0" cy="196.1" r="3.1"/>
<circle class="t" cx="184.0" cy="193.6" r="3.1"/>
<circle class="t" cx="322.1" cy="160.1" r="3.1"/>
<circle class="r" cx="196.4" cy="204.1" r="3.1"/>
<circle class="t" cx="626.6" cy="59.0" r="3.1"/>
<circle class="t" cx="525.2" cy="100.5" r="3.1"/>
<circle class="t" cx="350.4" cy="122.1" r="3.1"/>
<circle class="r" cx="581.7" cy="218.5" r="3.1"/>
<circle class="t" cx="106.9" cy="350.3" r="3.1"/>
<circle class="t" cx="211.6" cy="178.2" r="3.1"/>
<circle class="t" cx="322.3" cy="127.2" r="3.1"/>
<circle class="t" cx="578.0" cy="94.6" r="3.1"/>
<circle class="t" cx="128.1" cy="294.6" r="3.1"/>
<circle class="r" cx="356.2" cy="190.5" r="3.1"/>
<circle class="r" cx="430.6" cy="262.0" r="3.1"/>
<circle class="r" cx="203.4" cy="238.7" r="3.1"/>
<circle class="t" cx="599.5" cy="84.7" r="3.1"/>
<circle class="t" cx="433.2" cy="88.4" r="3.1"/>
<circle class="r" cx="256.6" cy="120.6" r="3.1"/>
<circle class="r" cx="154.8" cy="194.5" r="3.1"/>
<circle class="t" cx="110.6" cy="339.6" r="3.1"/>
<circle class="t" cx="566.6" cy="95.7" r="3.1"/>
<circle class="t" cx="558.1" cy="121.9" r="3.1"/>
<circle class="r" cx="481.9" cy="196.1" r="3.1"/>
<circle class="r" cx="439.8" cy="186.2" r="3.1"/>
<circle class="t" cx="238.1" cy="168.3" r="3.1"/>
<circle class="r" cx="395.9" cy="193.6" r="3.1"/>
<circle class="t" cx="545.0" cy="96.2" r="3.1"/>
<circle class="r" cx="357.8" cy="218.6" r="3.1"/>
<circle class="r" cx="95.7" cy="334.2" r="3.1"/>
<circle class="t" cx="276.4" cy="142.1" r="3.1"/>
<circle class="t" cx="464.2" cy="129.1" r="3.1"/>
<circle class="t" cx="116.4" cy="330.5" r="3.1"/>
<circle class="r" cx="441.4" cy="135.8" r="3.1"/>
<circle class="t" cx="621.0" cy="88.8" r="3.1"/>
<circle class="r" cx="597.2" cy="218.5" r="3.1"/>
<circle class="r" cx="99.8" cy="306.5" r="3.1"/>
<circle class="t" cx="347.9" cy="132.9" r="3.1"/>
<circle class="t" cx="318.9" cy="121.7" r="3.1"/>
<circle class="t" cx="463.8" cy="89.7" r="3.1"/>
<circle class="t" cx="595.7" cy="101.1" r="3.1"/>
<circle class="t" cx="539.1" cy="131.6" r="3.1"/>
<circle class="t" cx="135.1" cy="281.3" r="3.1"/>
<circle class="r" cx="570.5" cy="131.6" r="3.1"/>
<circle class="t" cx="126.5" cy="321.9" r="3.1"/>
<circle class="t" cx="475.3" cy="111.2" r="3.1"/>
<circle class="t" cx="628.7" cy="60.9" r="3.1"/>
<circle class="t" cx="642.3" cy="69.7" r="3.1"/>
<circle class="t" cx="554.8" cy="93.8" r="3.1"/>
<circle class="t" cx="633.2" cy="87.9" r="3.1"/>
<circle class="t" cx="385.1" cy="101.5" r="3.1"/>
<circle class="r" cx="181.5" cy="144.8" r="3.1"/>
<circle class="t" cx="172.0" cy="195.5" r="3.1"/>
<circle class="t" cx="555.6" cy="95.4" r="3.1"/>
<circle class="t" cx="621.8" cy="77.3" r="3.1"/>
<circle class="r" cx="596.0" cy="239.0" r="3.1"/>
<circle class="r" cx="264.0" cy="190.6" r="3.1"/>
<circle class="r" cx="258.3" cy="162.7" r="3.1"/>
<circle class="t" cx="413.3" cy="103.8" r="3.1"/>
<circle class="r" cx="638.6" cy="198.5" r="3.1"/>
<circle class="t" cx="433.9" cy="116.2" r="3.1"/>
<circle class="r" cx="626.6" cy="135.6" r="3.1"/>
<circle class="t" cx="512.2" cy="107.2" r="3.1"/>
<circle class="t" cx="523.1" cy="94.8" r="3.1"/>
<circle class="t" cx="603.2" cy="92.8" r="3.1"/>
<circle class="r" cx="534.1" cy="196.1" r="3.1"/>
<circle class="r" cx="612.7" cy="130.8" r="3.1"/>
<circle class="t" cx="201.0" cy="200.3" r="3.1"/>
<circle class="r" cx="288.0" cy="142.9" r="3.1"/>
<circle class="t" cx="405.3" cy="94.9" r="3.1"/>
<circle class="r" cx="141.5" cy="212.7" r="3.1"/>
<circle class="r" cx="442.3" cy="248.8" r="3.1"/>
<circle class="t" cx="339.3" cy="136.0" r="3.1"/>
<circle class="r" cx="433.9" cy="244.7" r="3.1"/>
<circle class="t" cx="624.3" cy="82.2" r="3.1"/>
<circle class="t" cx="378.3" cy="112.7" r="3.1"/>
<circle class="t" cx="551.0" cy="87.7" r="3.1"/>
<circle class="r" cx="530.0" cy="144.0" r="3.1"/>
<circle class="t" cx="272.3" cy="169.1" r="3.1"/>
<circle class="t" cx="625.0" cy="88.7" r="3.1"/>
<circle class="r" cx="600.3" cy="142.4" r="3.1"/>
<circle class="t" cx="436.7" cy="80.1" r="3.1"/>
<circle class="t" cx="345.7" cy="123.1" r="3.1"/>
<circle class="t" cx="94.5" cy="411.3" r="3.1"/>
<circle class="t" cx="341.3" cy="121.3" r="3.1"/>
<circle class="r" cx="292.5" cy="161.3" r="3.1"/>
<circle class="r" cx="125.0" cy="165.6" r="3.1"/>
<circle class="t" cx="288.0" cy="181.5" r="3.1"/>
<circle class="r" cx="127.5" cy="175.5" r="3.1"/>
<circle class="r" cx="295.9" cy="234.4" r="3.1"/>
<circle class="t" cx="214.9" cy="193.1" r="3.1"/>
<circle class="t" cx="616.8" cy="126.7" r="3.1"/>
<circle class="t" cx="92.6" cy="397.8" r="3.1"/>
<circle class="r" cx="409.1" cy="202.7" r="3.1"/>
<circle class="r" cx="469.5" cy="212.4" r="3.1"/>
<circle class="t" cx="293.8" cy="200.5" r="3.1"/>
<circle class="r" cx="404.2" cy="206.9" r="3.1"/>
<circle class="t" cx="608.6" cy="88.8" r="3.1"/>
<circle class="t" cx="580.5" cy="92.7" r="3.1"/>
<circle class="t" cx="532.3" cy="82.8" r="3.1"/>
<circle class="r" cx="535.0" cy="180.4" r="3.1"/>
<circle class="t" cx="320.5" cy="156.2" r="3.1"/>
<circle class="t" cx="600.3" cy="94.6" r="3.1"/>
<circle class="r" cx="184.8" cy="169.6" r="3.1"/>
<circle class="r" cx="229.8" cy="198.0" r="3.1"/>
<circle class="t" cx="198.5" cy="172.1" r="3.1"/>
<circle class="r" cx="611.1" cy="180.4" r="3.1"/>
<circle class="t" cx="328.0" cy="141.0" r="3.1"/>
<circle class="t" cx="133.5" cy="294.3" r="3.1"/>
<circle class="t" cx="158.9" cy="244.8" r="3.1"/>
<circle class="t" cx="296.6" cy="132.4" r="3.1"/>
<circle class="t" cx="144.5" cy="284.5" r="3.1"/>
<circle class="r" cx="121.4" cy="216.0" r="3.1"/>
<circle class="r" cx="433.9" cy="206.0" r="3.1"/>
<circle class="r" cx="160.1" cy="169.0" r="3.1"/>
<circle class="t" cx="629.9" cy="50.7" r="3.1"/>
<circle class="t" cx="381.0" cy="143.6" r="3.1"/>
<circle class="t" cx="552.3" cy="76.4" r="3.1"/>
<circle class="t" cx="529.9" cy="116.9" r="3.1"/>
<circle class="r" cx="318.9" cy="197.7" r="3.1"/>
<circle class="t" cx="533.7" cy="92.0" r="3.1"/>
<circle class="t" cx="441.4" cy="130.0" r="3.1"/>
<circle class="t" cx="103.8" cy="368.9" r="3.1"/>
<circle class="t" cx="484.5" cy="85.5" r="3.1"/>
<circle class="r" cx="539.1" cy="207.4" r="3.1"/>
<circle class="r" cx="170.0" cy="177.9" r="3.1"/>
<circle class="t" cx="621.9" cy="126.9" r="3.1"/>
<circle class="r" cx="416.6" cy="177.9" r="3.1"/>
<circle class="t" cx="136.9" cy="281.6" r="3.1"/>
<circle class="r" cx="192.3" cy="195.8" r="3.1"/>
<circle class="t" cx="618.5" cy="129.1" r="3.1"/>
<circle class="t" cx="123.0" cy="292.7" r="3.1"/>
<circle class="r" cx="423.2" cy="190.3" r="3.1"/>
<circle class="r" cx="577.1" cy="200.0" r="3.1"/>
<circle class="r" cx="268.2" cy="161.1" r="3.1"/>
<circle class="r" cx="151.4" cy="153.2" r="3.1"/>
<circle class="r" cx="507.6" cy="128.3" r="3.1"/>
<circle class="r" cx="517.5" cy="211.6" r="3.1"/>
<circle class="r" cx="285.5" cy="171.6" r="3.1"/>
<circle class="t" cx="162.2" cy="255.5" r="3.1"/>
<circle class="r" cx="250.8" cy="134.6" r="3.1"/>
<circle class="t" cx="376.6" cy="128.4" r="3.1"/>
<circle class="t" cx="168.7" cy="237.0" r="3.1"/>
<circle class="t" cx="563.1" cy="85.5" r="3.1"/>
<circle class="t" cx="613.6" cy="96.8" r="3.1"/>
<circle class="t" cx="143.1" cy="265.2" r="3.1"/>
<circle class="r" cx="622.5" cy="202.9" r="3.1"/>
<circle class="r" cx="210.6" cy="216.1" r="3.1"/>
<circle class="t" cx="585.1" cy="86.6" r="3.1"/>
<circle class="r" cx="561.4" cy="155.6" r="3.1"/>
<circle class="t" cx="371.0" cy="132.9" r="3.1"/>
<circle class="r" cx="205.6" cy="244.7" r="3.1"/>
<circle class="t" cx="443.9" cy="99.6" r="3.1"/>
<circle class="t" cx="198.0" cy="174.5" r="3.1"/>
<circle class="r" cx="152.3" cy="220.8" r="3.1"/>
<circle class="t" cx="203.8" cy="201.6" r="3.1"/>
<circle class="t" cx="321.7" cy="122.4" r="3.1"/>
<circle class="r" cx="240.5" cy="154.4" r="3.1"/>
<circle class="t" cx="232.2" cy="187.4" r="3.1"/>
<circle class="t" cx="370.2" cy="145.3" r="3.1"/>
<circle class="t" cx="219.9" cy="156.9" r="3.1"/>
<circle class="t" cx="350.4" cy="133.2" r="3.1"/>
<circle class="t" cx="549.0" cy="106.3" r="3.1"/>
<circle class="t" cx="296.6" cy="169.5" r="3.1"/>
<circle class="r" cx="589.6" cy="165.5" r="3.1"/>
<circle class="t" cx="415.8" cy="75.7" r="3.1"/>
<circle class="r" cx="233.9" cy="147.1" r="3.1"/>
<circle class="t" cx="573.0" cy="62.4" r="3.1"/>
<circle class="t" cx="296.9" cy="134.9" r="3.1"/>
<circle class="t" cx="295.7" cy="144.5" r="3.1"/>
<circle class="t" cx="450.5" cy="110.4" r="3.1"/>
<circle class="r" cx="210.8" cy="241.2" r="3.1"/>
<circle class="t" cx="104.8" cy="363.8" r="3.1"/>
<circle class="t" cx="485.3" cy="97.9" r="3.1"/>
<circle class="t" cx="464.6" cy="132.7" r="3.1"/>
<circle class="r" cx="165.0" cy="143.1" r="3.1"/>
<circle class="t" cx="626.5" cy="83.8" r="3.1"/>
<circle class="r" cx="610.2" cy="120.2" r="3.1"/>
<circle class="t" cx="496.0" cy="86.4" r="3.1"/>
<circle class="t" cx="321.5" cy="140.0" r="3.1"/>
<circle class="t" cx="296.8" cy="140.6" r="3.1"/>
<circle class="r" cx="392.6" cy="201.9" r="3.1"/>
<circle class="t" cx="108.9" cy="357.6" r="3.1"/>
<circle class="r" cx="155.6" cy="211.9" r="3.1"/>
<circle class="r" cx="414.9" cy="196.1" r="3.1"/>
<circle class="t" cx="397.6" cy="94.7" r="3.1"/>
<circle class="t" cx="613.7" cy="88.9" r="3.1"/>
<circle class="r" cx="137.4" cy="231.5" r="3.1"/>
<circle class="t" cx="199.7" cy="192.7" r="3.1"/>
<circle class="t" cx="505.1" cy="81.4" r="3.1"/>
<circle class="t" cx="581.7" cy="74.9" r="3.1"/>
<circle class="r" cx="534.1" cy="215.7" r="3.1"/>
<circle class="r" cx="362.0" cy="178.1" r="3.1"/>
<circle class="r" cx="324.7" cy="209.9" r="3.1"/>
<circle class="t" cx="331.3" cy="163.0" r="3.1"/>
<circle class="t" cx="619.6" cy="86.9" r="3.1"/>
<circle class="r" cx="478.6" cy="202.7" r="3.1"/>
<circle class="t" cx="159.0" cy="245.1" r="3.1"/>
<circle class="t" cx="278.1" cy="121.4" r="3.1"/>
<circle class="t" cx="641.5" cy="82.8" r="3.1"/>
<circle class="r" cx="106.4" cy="260.5" r="3.1"/>
<circle class="t" cx="231.4" cy="186.4" r="3.1"/>
<circle class="t" cx="314.5" cy="139.8" r="3.1"/>
<circle class="r" cx="651.4" cy="172.8" r="3.1"/>
<circle class="r" cx="323.1" cy="196.7" r="3.1"/>
<circle class="t" cx="344.6" cy="146.9" r="3.1"/>
<circle class="t" cx="140.5" cy="264.9" r="3.1"/>
<circle class="r" cx="281.4" cy="233.6" r="3.1"/>
<circle class="t" cx="178.3" cy="190.6" r="3.1"/>
<circle class="t" cx="441.4" cy="128.6" r="3.1"/>
<circle class="r" cx="541.6" cy="196.1" r="3.1"/>
<circle class="t" cx="87.3" cy="401.7" r="3.1"/>
<circle class="t" cx="480.3" cy="79.8" r="3.1"/>
<circle class="r" cx="592.9" cy="199.4" r="3.1"/>
<circle class="r" cx="181.5" cy="192.7" r="3.1"/>
<circle class="t" cx="638.2" cy="72.2" r="3.1"/>
<circle class="t" cx="208.3" cy="199.7" r="3.1"/>
<circle class="t" cx="338.4" cy="133.8" r="3.1"/>
<circle class="r" cx="259.9" cy="171.6" r="3.1"/>
<circle class="r" cx="156.4" cy="236.5" r="3.1"/>
<circle class="t" cx="318.9" cy="121.9" r="3.1"/>
<circle class="r" cx="130.0" cy="198.6" r="3.1"/>
<circle class="r" cx="496.9" cy="163.0" r="3.1"/>
<circle class="r" cx="146.5" cy="208.6" r="3.1"/>
<circle class="r" cx="479.5" cy="235.6" r="3.1"/>
<circle class="r" cx="621.8" cy="165.5" r="3.1"/>
<circle class="t" cx="255.8" cy="167.7" r="3.1"/>
<circle class="r" cx="198.9" cy="179.5" r="3.1"/>
<circle class="r" cx="94.9" cy="292.7" r="3.1"/>
<circle class="t" cx="470.0" cy="138.5" r="3.1"/>
<circle class="t" cx="143.0" cy="269.8" r="3.1"/>
<circle class="r" cx="341.3" cy="212.0" r="3.1"/>
<circle class="t" cx="282.2" cy="165.0" r="3.1"/>
<circle class="t" cx="514.7" cy="105.7" r="3.1"/>
<circle class="t" cx="391.0" cy="95.5" r="3.1"/>
<circle class="t" cx="208.0" cy="185.0" r="3.1"/>
<circle class="r" cx="308.2" cy="197.7" r="3.1"/>
<circle class="r" cx="309.8" cy="163.0" r="3.1"/>
<circle class="t" cx="519.2" cy="80.6" r="3.1"/>
<circle class="r" cx="264.8" cy="172.0" r="3.1"/>
<circle class="t" cx="410.5" cy="102.7" r="3.1"/>
<circle class="t" cx="212.2" cy="176.8" r="3.1"/>
<circle class="t" cx="346.8" cy="139.5" r="3.1"/>
<circle class="t" cx="243.6" cy="155.5" r="3.1"/>
<circle class="t" cx="296.6" cy="160.5" r="3.1"/>
<circle class="t" cx="612.5" cy="73.1" r="3.1"/>
<circle class="r" cx="458.0" cy="266.2" r="3.1"/>
<circle class="t" cx="350.6" cy="136.0" r="3.1"/>
<circle class="t" cx="149.0" cy="259.6" r="3.1"/>
<circle class="t" cx="87.2" cy="402.0" r="3.1"/>
<circle class="t" cx="563.1" cy="99.6" r="3.1"/>
<circle class="t" cx="151.4" cy="273.7" r="3.1"/>
<circle class="r" cx="580.5" cy="169.6" r="3.1"/>
<circle class="t" cx="544.9" cy="112.8" r="3.1"/>
<circle class="t" cx="548.2" cy="103.7" r="3.1"/>
<circle class="t" cx="456.1" cy="136.6" r="3.1"/>
<circle class="r" cx="623.5" cy="202.7" r="3.1"/>
<circle class="r" cx="493.6" cy="145.7" r="3.1"/>
<circle class="t" cx="86.2" cy="413.3" r="3.1"/>
<circle class="t" cx="152.4" cy="250.3" r="3.1"/>
<circle class="t" cx="399.7" cy="89.0" r="3.1"/>
<circle class="r" cx="140.7" cy="241.4" r="3.1"/>
<circle class="t" cx="303.2" cy="167.9" r="3.1"/>
<circle class="t" cx="100.5" cy="376.6" r="3.1"/>
<circle class="r" cx="104.0" cy="278.6" r="3.1"/>
<circle class="r" cx="621.2" cy="177.5" r="3.1"/>
<circle class="r" cx="638.2" cy="157.9" r="3.1"/>
<circle class="t" cx="291.7" cy="176.2" r="3.1"/>
<circle class="t" cx="459.6" cy="85.6" r="3.1"/>
<circle class="t" cx="269.8" cy="146.2" r="3.1"/>
<circle class="r" cx="644.0" cy="150.5" r="3.1"/>
<circle class="t" cx="116.2" cy="356.5" r="3.1"/>
<circle class="t" cx="235.3" cy="168.5" r="3.1"/>
<circle class="r" cx="140.5" cy="253.3" r="3.1"/>
<circle class="r" cx="644.8" cy="182.7" r="3.1"/>
<circle class="t" cx="392.6" cy="104.6" r="3.1"/>
<circle class="t" cx="221.9" cy="193.7" r="3.1"/>
<circle class="r" cx="352.0" cy="196.3" r="3.1"/>
<circle class="t" cx="241.4" cy="165.0" r="3.1"/>
<circle cx="581.3" cy="93.3" r="3.2" fill="#F8766D"/>
<line x1="581.3" y1="93.3" x2="556.4" y2="50.9" stroke="#000" stroke-width="1.5"/>
<polyline points="556.3,62.0 556.4,50.9 566.6,56.3" fill="none" stroke="#000" stroke-width="1.5"/>
<text x="377.5" y="43.2" class="ann">Iteration: 873<tspan font-size="10.3" dy="-6">th</tspan><tspan dy="6">, Accuracy: 0.896</tspan></text>
<line x1="52.5" x2="57.0" y1="432.70" y2="432.70" class="tk"/>
<text x="49.5" y="438.10" class="yl">0.884</text>
<line x1="52.5" x2="57.0" y1="320.10" y2="320.10" class="tk"/>
<text x="49.5" y="325.50" class="yl">0.888</text>
<line x1="52.5" x2="57.0" y1="207.50" y2="207.50" class="tk"/>
<text x="49.5" y="212.90" class="yl">0.892</text>
<line x1="52.5" x2="57.0" y1="94.90" y2="94.90" class="tk"/>
<text x="49.5" y="100.30" class="yl">0.896</text>
<line y1="447.7" y2="452.2" x1="84.50" x2="84.50" class="tk"/>
<text x="84.50" y="464.0" class="xl">0</text>
<line y1="447.7" y2="452.2" x1="226.72" x2="226.72" class="tk"/>
<text x="226.72" y="464.0" class="xl">250</text>
<line y1="447.7" y2="452.2" x1="368.95" x2="368.95" class="tk"/>
<text x="368.95" y="464.0" class="xl">500</text>
<line y1="447.7" y2="452.2" x1="511.17" x2="511.17" class="tk"/>
<text x="511.17" y="464.0" class="xl">750</text>
<line y1="447.7" y2="452.2" x1="653.40" x2="653.40" class="tk"/>
<text x="653.40" y="464.0" class="xl">1000</text>
<circle cx="294.9" cy="8.4" r="3.3" fill="#F8766D"/>
<text x="315.4" y="13.8" class="ttl">External</text>
<circle cx="392" cy="8.4" r="3.3" fill="#00BFC4"/>
<text x="412.5" y="13.8" class="ttl">Internal</text>
<text x="369" y="481" class="ttl" text-anchor="middle">Iteration</text>
<text transform="translate(13.9,236.2) rotate(-90)" class="ttl" text-anchor="middle">Mean Accuracy</text>
</svg>
</body></html>
